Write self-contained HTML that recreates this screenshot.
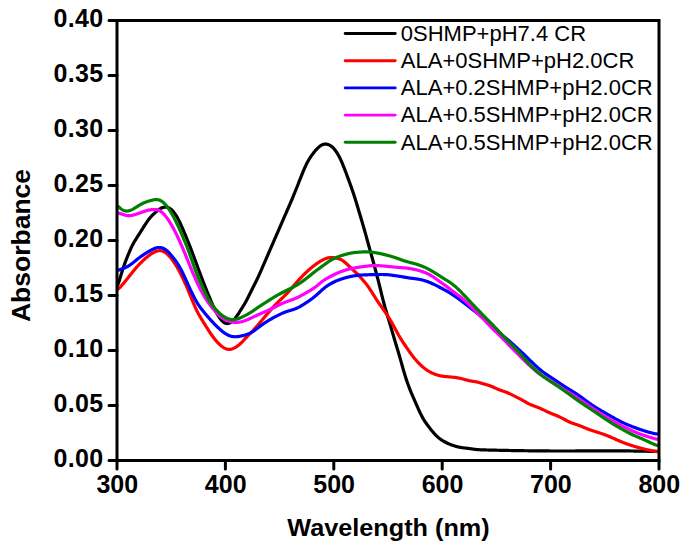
<!DOCTYPE html>
<html><head><meta charset="utf-8"><style>
html,body{margin:0;padding:0;background:#fff;}
body{width:685px;height:547px;overflow:hidden;}
svg{display:block;}
text{font-family:"Liberation Sans",sans-serif;}
.tk{font-weight:bold;font-size:25px;}
.lg{font-size:22px;}
</style></head><body>
<svg width="685" height="547" viewBox="0 0 685 547">
<rect width="685" height="547" fill="#fff"/>
<g fill="none" stroke-width="3.2" stroke-linejoin="round" stroke-linecap="round">
<path d="M117.5,285.41 L118.0,284.23 L118.5,282.91 L119.0,281.47 L119.5,279.94 L120.0,278.33 L120.5,276.69 L121.0,275.03 L121.5,273.38 L122.0,271.75 L122.5,270.17 L123.0,268.62 L123.5,267.12 L124.0,265.67 L124.5,264.27 L125.0,262.90 L125.5,261.56 L126.0,260.26 L126.5,258.97 L127.0,257.71 L127.5,256.46 L128.0,255.22 L128.5,254.00 L129.0,252.79 L129.5,251.60 L130.0,250.44 L130.5,249.30 L131.0,248.19 L131.5,247.12 L132.0,246.08 L132.5,245.08 L133.0,244.13 L133.5,243.21 L134.0,242.32 L134.5,241.47 L135.0,240.64 L135.5,239.83 L136.0,239.04 L136.5,238.26 L137.0,237.49 L137.5,236.72 L138.0,235.94 L138.5,235.17 L139.0,234.39 L139.5,233.61 L140.0,232.82 L140.5,232.02 L141.0,231.22 L141.5,230.42 L142.0,229.61 L142.5,228.81 L143.0,228.00 L143.5,227.20 L144.0,226.40 L144.5,225.60 L145.0,224.81 L145.5,224.04 L146.0,223.28 L146.5,222.53 L147.0,221.80 L147.5,221.09 L148.0,220.40 L148.5,219.73 L149.0,219.09 L149.5,218.46 L150.0,217.86 L150.5,217.29 L151.0,216.73 L151.5,216.19 L152.0,215.67 L152.5,215.17 L153.0,214.68 L153.5,214.20 L154.0,213.73 L154.5,213.28 L155.0,212.82 L155.5,212.38 L156.0,211.94 L156.5,211.51 L157.0,211.09 L157.5,210.68 L158.0,210.28 L158.5,209.89 L159.0,209.53 L159.5,209.18 L160.0,208.85 L160.5,208.54 L161.0,208.27 L161.5,208.02 L162.0,207.80 L162.5,207.61 L163.0,207.45 L163.5,207.32 L164.0,207.22 L164.5,207.15 L165.0,207.11 L165.5,207.10 L166.0,207.13 L166.5,207.18 L167.0,207.27 L167.5,207.39 L168.0,207.54 L168.5,207.74 L169.0,207.97 L169.5,208.24 L170.0,208.55 L170.5,208.91 L171.0,209.30 L171.5,209.74 L172.0,210.22 L172.5,210.74 L173.0,211.29 L173.5,211.89 L174.0,212.51 L174.5,213.17 L175.0,213.87 L175.5,214.59 L176.0,215.35 L176.5,216.15 L177.0,216.98 L177.5,217.84 L178.0,218.74 L178.5,219.68 L179.0,220.66 L179.5,221.67 L180.0,222.72 L180.5,223.80 L181.0,224.90 L181.5,226.03 L182.0,227.17 L182.5,228.33 L183.0,229.50 L183.5,230.67 L184.0,231.85 L184.5,233.03 L185.0,234.22 L185.5,235.41 L186.0,236.60 L186.5,237.81 L187.0,239.02 L187.5,240.24 L188.0,241.48 L188.5,242.73 L189.0,243.99 L189.5,245.27 L190.0,246.56 L190.5,247.86 L191.0,249.17 L191.5,250.49 L192.0,251.81 L192.5,253.14 L193.0,254.47 L193.5,255.81 L194.0,257.15 L194.5,258.49 L195.0,259.83 L195.5,261.18 L196.0,262.53 L196.5,263.89 L197.0,265.24 L197.5,266.60 L198.0,267.96 L198.5,269.32 L199.0,270.68 L199.5,272.03 L200.0,273.37 L200.5,274.71 L201.0,276.03 L201.5,277.35 L202.0,278.65 L202.5,279.94 L203.0,281.22 L203.5,282.50 L204.0,283.76 L204.5,285.02 L205.0,286.28 L205.5,287.53 L206.0,288.78 L206.5,290.03 L207.0,291.27 L207.5,292.51 L208.0,293.75 L208.5,294.99 L209.0,296.22 L209.5,297.44 L210.0,298.65 L210.5,299.86 L211.0,301.05 L211.5,302.22 L212.0,303.38 L212.5,304.51 L213.0,305.63 L213.5,306.73 L214.0,307.80 L214.5,308.85 L215.0,309.87 L215.5,310.86 L216.0,311.83 L216.5,312.77 L217.0,313.68 L217.5,314.55 L218.0,315.40 L218.5,316.21 L219.0,316.99 L219.5,317.73 L220.0,318.44 L220.5,319.10 L221.0,319.73 L221.5,320.31 L222.0,320.84 L222.5,321.33 L223.0,321.77 L223.5,322.17 L224.0,322.51 L224.5,322.81 L225.0,323.05 L225.5,323.25 L226.0,323.39 L226.5,323.48 L227.0,323.53 L227.5,323.53 L228.0,323.48 L228.5,323.38 L229.0,323.24 L229.5,323.06 L230.0,322.83 L230.5,322.56 L231.0,322.24 L231.5,321.89 L232.0,321.50 L232.5,321.07 L233.0,320.61 L233.5,320.10 L234.0,319.57 L234.5,319.00 L235.0,318.40 L235.5,317.77 L236.0,317.12 L236.5,316.44 L237.0,315.74 L237.5,315.02 L238.0,314.28 L238.5,313.53 L239.0,312.77 L239.5,312.00 L240.0,311.22 L240.5,310.44 L241.0,309.65 L241.5,308.86 L242.0,308.06 L242.5,307.26 L243.0,306.45 L243.5,305.63 L244.0,304.80 L244.5,303.96 L245.0,303.09 L245.5,302.21 L246.0,301.32 L246.5,300.40 L247.0,299.46 L247.5,298.50 L248.0,297.52 L248.5,296.52 L249.0,295.52 L249.5,294.50 L250.0,293.49 L250.5,292.47 L251.0,291.45 L251.5,290.43 L252.0,289.43 L252.5,288.43 L253.0,287.44 L253.5,286.45 L254.0,285.47 L254.5,284.49 L255.0,283.50 L255.5,282.51 L256.0,281.51 L256.5,280.49 L257.0,279.46 L257.5,278.42 L258.0,277.35 L258.5,276.27 L259.0,275.17 L259.5,274.06 L260.0,272.94 L260.5,271.80 L261.0,270.66 L261.5,269.52 L262.0,268.37 L262.5,267.22 L263.0,266.07 L263.5,264.92 L264.0,263.77 L264.5,262.62 L265.0,261.47 L265.5,260.31 L266.0,259.16 L266.5,258.01 L267.0,256.86 L267.5,255.71 L268.0,254.55 L268.5,253.40 L269.0,252.25 L269.5,251.09 L270.0,249.94 L270.5,248.79 L271.0,247.64 L271.5,246.48 L272.0,245.33 L272.5,244.18 L273.0,243.03 L273.5,241.88 L274.0,240.72 L274.5,239.57 L275.0,238.42 L275.5,237.27 L276.0,236.12 L276.5,234.97 L277.0,233.82 L277.5,232.67 L278.0,231.53 L278.5,230.38 L279.0,229.23 L279.5,228.08 L280.0,226.93 L280.5,225.78 L281.0,224.64 L281.5,223.49 L282.0,222.34 L282.5,221.19 L283.0,220.04 L283.5,218.89 L284.0,217.75 L284.5,216.60 L285.0,215.45 L285.5,214.30 L286.0,213.15 L286.5,212.00 L287.0,210.85 L287.5,209.70 L288.0,208.55 L288.5,207.40 L289.0,206.25 L289.5,205.10 L290.0,203.95 L290.5,202.79 L291.0,201.62 L291.5,200.45 L292.0,199.27 L292.5,198.08 L293.0,196.88 L293.5,195.67 L294.0,194.45 L294.5,193.23 L295.0,191.99 L295.5,190.75 L296.0,189.51 L296.5,188.25 L297.0,187.00 L297.5,185.74 L298.0,184.48 L298.5,183.22 L299.0,181.95 L299.5,180.69 L300.0,179.42 L300.5,178.15 L301.0,176.89 L301.5,175.63 L302.0,174.38 L302.5,173.14 L303.0,171.92 L303.5,170.71 L304.0,169.52 L304.5,168.36 L305.0,167.23 L305.5,166.14 L306.0,165.07 L306.5,164.05 L307.0,163.06 L307.5,162.11 L308.0,161.19 L308.5,160.31 L309.0,159.47 L309.5,158.65 L310.0,157.86 L310.5,157.10 L311.0,156.36 L311.5,155.64 L312.0,154.94 L312.5,154.26 L313.0,153.60 L313.5,152.95 L314.0,152.31 L314.5,151.69 L315.0,151.08 L315.5,150.49 L316.0,149.91 L316.5,149.36 L317.0,148.82 L317.5,148.30 L318.0,147.81 L318.5,147.34 L319.0,146.90 L319.5,146.49 L320.0,146.10 L320.5,145.75 L321.0,145.43 L321.5,145.14 L322.0,144.88 L322.5,144.66 L323.0,144.47 L323.5,144.32 L324.0,144.20 L324.5,144.12 L325.0,144.07 L325.5,144.06 L326.0,144.08 L326.5,144.13 L327.0,144.21 L327.5,144.33 L328.0,144.48 L328.5,144.66 L329.0,144.87 L329.5,145.11 L330.0,145.38 L330.5,145.68 L331.0,146.02 L331.5,146.39 L332.0,146.79 L332.5,147.23 L333.0,147.71 L333.5,148.23 L334.0,148.78 L334.5,149.37 L335.0,150.00 L335.5,150.66 L336.0,151.36 L336.5,152.10 L337.0,152.87 L337.5,153.68 L338.0,154.53 L338.5,155.41 L339.0,156.33 L339.5,157.28 L340.0,158.28 L340.5,159.32 L341.0,160.39 L341.5,161.50 L342.0,162.65 L342.5,163.83 L343.0,165.04 L343.5,166.28 L344.0,167.54 L344.5,168.83 L345.0,170.13 L345.5,171.45 L346.0,172.78 L346.5,174.12 L347.0,175.47 L347.5,176.82 L348.0,178.17 L348.5,179.53 L349.0,180.89 L349.5,182.26 L350.0,183.62 L350.5,185.00 L351.0,186.39 L351.5,187.79 L352.0,189.21 L352.5,190.65 L353.0,192.12 L353.5,193.61 L354.0,195.14 L354.5,196.69 L355.0,198.26 L355.5,199.87 L356.0,201.50 L356.5,203.15 L357.0,204.81 L357.5,206.49 L358.0,208.17 L358.5,209.85 L359.0,211.54 L359.5,213.22 L360.0,214.90 L360.5,216.58 L361.0,218.25 L361.5,219.93 L362.0,221.61 L362.5,223.29 L363.0,225.00 L363.5,226.71 L364.0,228.45 L364.5,230.22 L365.0,232.00 L365.5,233.80 L366.0,235.62 L366.5,237.44 L367.0,239.27 L367.5,241.10 L368.0,242.91 L368.5,244.72 L369.0,246.51 L369.5,248.30 L370.0,250.07 L370.5,251.85 L371.0,253.63 L371.5,255.41 L372.0,257.21 L372.5,259.02 L373.0,260.85 L373.5,262.69 L374.0,264.54 L374.5,266.40 L375.0,268.28 L375.5,270.15 L376.0,272.04 L376.5,273.93 L377.0,275.84 L377.5,277.76 L378.0,279.70 L378.5,281.66 L379.0,283.64 L379.5,285.65 L380.0,287.67 L380.5,289.71 L381.0,291.75 L381.5,293.79 L382.0,295.82 L382.5,297.83 L383.0,299.81 L383.5,301.75 L384.0,303.65 L384.5,305.50 L385.0,307.31 L385.5,309.08 L386.0,310.81 L386.5,312.51 L387.0,314.19 L387.5,315.84 L388.0,317.49 L388.5,319.13 L389.0,320.78 L389.5,322.43 L390.0,324.10 L390.5,325.77 L391.0,327.46 L391.5,329.17 L392.0,330.88 L392.5,332.59 L393.0,334.31 L393.5,336.03 L394.0,337.73 L394.5,339.43 L395.0,341.11 L395.5,342.78 L396.0,344.43 L396.5,346.08 L397.0,347.72 L397.5,349.37 L398.0,351.03 L398.5,352.70 L399.0,354.39 L399.5,356.11 L400.0,357.85 L400.5,359.61 L401.0,361.39 L401.5,363.18 L402.0,364.97 L402.5,366.75 L403.0,368.52 L403.5,370.25 L404.0,371.96 L404.5,373.64 L405.0,375.28 L405.5,376.88 L406.0,378.45 L406.5,379.97 L407.0,381.46 L407.5,382.91 L408.0,384.33 L408.5,385.71 L409.0,387.05 L409.5,388.36 L410.0,389.63 L410.5,390.87 L411.0,392.09 L411.5,393.28 L412.0,394.46 L412.5,395.62 L413.0,396.77 L413.5,397.92 L414.0,399.06 L414.5,400.20 L415.0,401.35 L415.5,402.50 L416.0,403.64 L416.5,404.79 L417.0,405.94 L417.5,407.08 L418.0,408.22 L418.5,409.34 L419.0,410.44 L419.5,411.53 L420.0,412.59 L420.5,413.62 L421.0,414.63 L421.5,415.60 L422.0,416.55 L422.5,417.46 L423.0,418.34 L423.5,419.19 L424.0,420.01 L424.5,420.80 L425.0,421.56 L425.5,422.31 L426.0,423.03 L426.5,423.73 L427.0,424.43 L427.5,425.11 L428.0,425.77 L428.5,426.44 L429.0,427.09 L429.5,427.74 L430.0,428.38 L430.5,429.02 L431.0,429.64 L431.5,430.26 L432.0,430.88 L432.5,431.48 L433.0,432.07 L433.5,432.65 L434.0,433.21 L434.5,433.76 L435.0,434.30 L435.5,434.83 L436.0,435.34 L436.5,435.83 L437.0,436.31 L437.5,436.77 L438.0,437.22 L438.5,437.65 L439.0,438.06 L439.5,438.47 L440.0,438.85 L440.5,439.22 L441.0,439.58 L441.5,439.93 L442.0,440.26 L442.5,440.58 L443.0,440.89 L443.5,441.18 L444.0,441.47 L444.5,441.75 L445.0,442.02 L445.5,442.28 L446.0,442.53 L446.5,442.77 L447.0,443.01 L447.5,443.24 L448.0,443.47 L448.5,443.69 L449.0,443.91 L449.5,444.12 L450.0,444.32 L450.5,444.52 L451.0,444.71 L451.5,444.90 L452.0,445.08 L452.5,445.26 L453.0,445.44 L453.5,445.61 L454.0,445.77 L454.5,445.93 L455.0,446.08 L455.5,446.23 L456.0,446.38 L456.5,446.51 L457.0,446.65 L457.5,446.77 L458.0,446.89 L458.5,447.01 L459.0,447.12 L459.5,447.22 L460.0,447.32 L460.5,447.41 L461.0,447.49 L461.5,447.57 L462.0,447.65 L462.5,447.72 L463.0,447.79 L463.5,447.85 L464.0,447.91 L464.5,447.97 L465.0,448.03 L465.5,448.09 L466.0,448.14 L466.5,448.20 L467.0,448.26 L467.5,448.32 L468.0,448.38 L468.5,448.44 L469.0,448.51 L469.5,448.57 L470.0,448.64 L470.5,448.71 L471.0,448.79 L471.5,448.86 L472.0,448.93 L472.5,449.01 L473.0,449.08 L473.5,449.15 L474.0,449.22 L474.5,449.28 L475.0,449.35 L475.5,449.41 L476.0,449.46 L476.5,449.52 L477.0,449.56 L477.5,449.61 L478.0,449.65 L478.5,449.69 L479.0,449.72 L479.5,449.75 L480.0,449.77 L480.5,449.80 L481.0,449.82 L481.5,449.84 L482.0,449.86 L482.5,449.87 L483.0,449.89 L483.5,449.90 L484.0,449.92 L484.5,449.93 L485.0,449.94 L485.5,449.96 L486.0,449.97 L486.5,449.98 L487.0,449.99 L487.5,450.01 L488.0,450.02 L488.5,450.03 L489.0,450.04 L489.5,450.06 L490.0,450.07 L490.5,450.08 L491.0,450.09 L491.5,450.10 L492.0,450.12 L492.5,450.13 L493.0,450.14 L493.5,450.15 L494.0,450.16 L494.5,450.17 L495.0,450.19 L495.5,450.20 L496.0,450.21 L496.5,450.22 L497.0,450.23 L497.5,450.24 L498.0,450.25 L498.5,450.27 L499.0,450.28 L499.5,450.29 L500.0,450.30 L500.5,450.31 L501.0,450.32 L501.5,450.33 L502.0,450.34 L502.5,450.35 L503.0,450.36 L503.5,450.37 L504.0,450.38 L504.5,450.39 L505.0,450.40 L505.5,450.41 L506.0,450.42 L506.5,450.43 L507.0,450.44 L507.5,450.45 L508.0,450.46 L508.5,450.47 L509.0,450.48 L509.5,450.49 L510.0,450.50 L510.5,450.51 L511.0,450.52 L511.5,450.53 L512.0,450.53 L512.5,450.54 L513.0,450.55 L513.5,450.56 L514.0,450.57 L514.5,450.58 L515.0,450.59 L515.5,450.59 L516.0,450.60 L516.5,450.61 L517.0,450.62 L517.5,450.63 L518.0,450.63 L518.5,450.64 L519.0,450.65 L519.5,450.66 L520.0,450.66 L520.5,450.67 L521.0,450.68 L521.5,450.69 L522.0,450.69 L522.5,450.70 L523.0,450.71 L523.5,450.71 L524.0,450.72 L524.5,450.73 L525.0,450.74 L525.5,450.74 L526.0,450.75 L526.5,450.76 L527.0,450.76 L527.5,450.77 L528.0,450.77 L528.5,450.78 L529.0,450.79 L529.5,450.79 L530.0,450.80 L530.5,450.81 L531.0,450.81 L531.5,450.82 L532.0,450.82 L532.5,450.83 L533.0,450.83 L533.5,450.84 L534.0,450.84 L534.5,450.85 L535.0,450.86 L535.5,450.86 L536.0,450.87 L536.5,450.87 L537.0,450.88 L537.5,450.88 L538.0,450.89 L538.5,450.89 L539.0,450.90 L539.5,450.90 L540.0,450.90 L540.5,450.91 L541.0,450.91 L541.5,450.92 L542.0,450.92 L542.5,450.93 L543.0,450.93 L543.5,450.93 L544.0,450.94 L544.5,450.94 L545.0,450.94 L545.5,450.95 L546.0,450.95 L546.5,450.96 L547.0,450.96 L547.5,450.96 L548.0,450.96 L548.5,450.97 L549.0,450.97 L549.5,450.97 L550.0,450.98 L550.5,450.98 L551.0,450.98 L551.5,450.98 L552.0,450.99 L552.5,450.99 L553.0,450.99 L553.5,450.99 L554.0,450.99 L554.5,451.00 L555.0,451.00 L555.5,451.00 L556.0,451.00 L556.5,451.00 L557.0,451.00 L557.5,451.01 L558.0,451.01 L558.5,451.01 L559.0,451.01 L559.5,451.01 L560.0,451.01 L560.5,451.01 L561.0,451.01 L561.5,451.01 L562.0,451.01 L562.5,451.01 L563.0,451.01 L563.5,451.01 L564.0,451.01 L564.5,451.01 L565.0,451.01 L565.5,451.01 L566.0,451.01 L566.5,451.01 L567.0,451.01 L567.5,451.01 L568.0,451.00 L568.5,451.00 L569.0,451.00 L569.5,451.00 L570.0,451.00 L570.5,451.00 L571.0,450.99 L571.5,450.99 L572.0,450.99 L572.5,450.99 L573.0,450.99 L573.5,450.98 L574.0,450.98 L574.5,450.98 L575.0,450.98 L575.5,450.97 L576.0,450.97 L576.5,450.97 L577.0,450.96 L577.5,450.96 L578.0,450.96 L578.5,450.95 L579.0,450.95 L579.5,450.95 L580.0,450.94 L580.5,450.94 L581.0,450.94 L581.5,450.93 L582.0,450.93 L582.5,450.93 L583.0,450.92 L583.5,450.92 L584.0,450.92 L584.5,450.91 L585.0,450.91 L585.5,450.91 L586.0,450.90 L586.5,450.90 L587.0,450.89 L587.5,450.89 L588.0,450.89 L588.5,450.88 L589.0,450.88 L589.5,450.88 L590.0,450.87 L590.5,450.87 L591.0,450.87 L591.5,450.86 L592.0,450.86 L592.5,450.86 L593.0,450.85 L593.5,450.85 L594.0,450.85 L594.5,450.84 L595.0,450.84 L595.5,450.84 L596.0,450.83 L596.5,450.83 L597.0,450.83 L597.5,450.83 L598.0,450.82 L598.5,450.82 L599.0,450.82 L599.5,450.82 L600.0,450.82 L600.5,450.81 L601.0,450.81 L601.5,450.81 L602.0,450.81 L602.5,450.81 L603.0,450.81 L603.5,450.80 L604.0,450.80 L604.5,450.80 L605.0,450.80 L605.5,450.80 L606.0,450.80 L606.5,450.80 L607.0,450.80 L607.5,450.80 L608.0,450.80 L608.5,450.80 L609.0,450.80 L609.5,450.80 L610.0,450.80 L610.5,450.80 L611.0,450.80 L611.5,450.81 L612.0,450.81 L612.5,450.81 L613.0,450.81 L613.5,450.81 L614.0,450.82 L614.5,450.82 L615.0,450.82 L615.5,450.82 L616.0,450.83 L616.5,450.83 L617.0,450.83 L617.5,450.84 L618.0,450.84 L618.5,450.84 L619.0,450.85 L619.5,450.85 L620.0,450.86 L620.5,450.86 L621.0,450.87 L621.5,450.87 L622.0,450.88 L622.5,450.88 L623.0,450.89 L623.5,450.89 L624.0,450.90 L624.5,450.90 L625.0,450.91 L625.5,450.91 L626.0,450.92 L626.5,450.93 L627.0,450.93 L627.5,450.94 L628.0,450.95 L628.5,450.95 L629.0,450.96 L629.5,450.97 L630.0,450.97 L630.5,450.98 L631.0,450.99 L631.5,451.00 L632.0,451.00 L632.5,451.01 L633.0,451.02 L633.5,451.03 L634.0,451.03 L634.5,451.04 L635.0,451.05 L635.5,451.06 L636.0,451.07 L636.5,451.08 L637.0,451.08 L637.5,451.09 L638.0,451.10 L638.5,451.11 L639.0,451.12 L639.5,451.13 L640.0,451.14 L640.5,451.15 L641.0,451.16 L641.5,451.16 L642.0,451.17 L642.5,451.18 L643.0,451.19 L643.5,451.20 L644.0,451.21 L644.5,451.22 L645.0,451.23 L645.5,451.24 L646.0,451.25 L646.5,451.26 L647.0,451.27 L647.5,451.28 L648.0,451.29 L648.5,451.30 L649.0,451.31 L649.5,451.32 L650.0,451.33 L650.5,451.34 L651.0,451.35 L651.5,451.36 L652.0,451.37 L652.5,451.38 L653.0,451.39 L653.5,451.40 L654.0,451.41 L654.5,451.42 L655.0,451.43 L655.5,451.44 L656.0,451.45 L656.5,451.46 L657.0,451.47 L657.5,451.47 L658.0,451.48" stroke="#000000"/>
<path d="M117.5,289.44 L118.0,289.10 L118.5,288.72 L119.0,288.30 L119.5,287.84 L120.0,287.35 L120.5,286.83 L121.0,286.30 L121.5,285.74 L122.0,285.17 L122.5,284.58 L123.0,283.99 L123.5,283.39 L124.0,282.79 L124.5,282.18 L125.0,281.57 L125.5,280.96 L126.0,280.34 L126.5,279.72 L127.0,279.10 L127.5,278.48 L128.0,277.85 L128.5,277.23 L129.0,276.60 L129.5,275.97 L130.0,275.33 L130.5,274.70 L131.0,274.07 L131.5,273.44 L132.0,272.81 L132.5,272.19 L133.0,271.57 L133.5,270.96 L134.0,270.35 L134.5,269.74 L135.0,269.15 L135.5,268.56 L136.0,267.97 L136.5,267.40 L137.0,266.83 L137.5,266.27 L138.0,265.72 L138.5,265.18 L139.0,264.64 L139.5,264.11 L140.0,263.58 L140.5,263.07 L141.0,262.56 L141.5,262.06 L142.0,261.56 L142.5,261.08 L143.0,260.60 L143.5,260.13 L144.0,259.66 L144.5,259.21 L145.0,258.76 L145.5,258.32 L146.0,257.89 L146.5,257.46 L147.0,257.05 L147.5,256.64 L148.0,256.24 L148.5,255.85 L149.0,255.47 L149.5,255.10 L150.0,254.73 L150.5,254.38 L151.0,254.03 L151.5,253.70 L152.0,253.38 L152.5,253.07 L153.0,252.78 L153.5,252.50 L154.0,252.24 L154.5,251.99 L155.0,251.77 L155.5,251.56 L156.0,251.37 L156.5,251.21 L157.0,251.07 L157.5,250.95 L158.0,250.85 L158.5,250.77 L159.0,250.72 L159.5,250.70 L160.0,250.70 L160.5,250.72 L161.0,250.78 L161.5,250.86 L162.0,250.98 L162.5,251.12 L163.0,251.30 L163.5,251.51 L164.0,251.75 L164.5,252.02 L165.0,252.33 L165.5,252.67 L166.0,253.04 L166.5,253.44 L167.0,253.87 L167.5,254.32 L168.0,254.81 L168.5,255.31 L169.0,255.84 L169.5,256.39 L170.0,256.96 L170.5,257.55 L171.0,258.16 L171.5,258.78 L172.0,259.43 L172.5,260.10 L173.0,260.79 L173.5,261.50 L174.0,262.24 L174.5,262.99 L175.0,263.77 L175.5,264.57 L176.0,265.38 L176.5,266.22 L177.0,267.08 L177.5,267.96 L178.0,268.85 L178.5,269.76 L179.0,270.68 L179.5,271.62 L180.0,272.57 L180.5,273.54 L181.0,274.52 L181.5,275.52 L182.0,276.53 L182.5,277.56 L183.0,278.60 L183.5,279.66 L184.0,280.74 L184.5,281.83 L185.0,282.94 L185.5,284.07 L186.0,285.21 L186.5,286.37 L187.0,287.54 L187.5,288.73 L188.0,289.93 L188.5,291.13 L189.0,292.35 L189.5,293.57 L190.0,294.79 L190.5,296.02 L191.0,297.25 L191.5,298.48 L192.0,299.71 L192.5,300.92 L193.0,302.13 L193.5,303.32 L194.0,304.49 L194.5,305.64 L195.0,306.77 L195.5,307.88 L196.0,308.96 L196.5,310.01 L197.0,311.03 L197.5,312.03 L198.0,312.99 L198.5,313.93 L199.0,314.84 L199.5,315.72 L200.0,316.59 L200.5,317.43 L201.0,318.27 L201.5,319.09 L202.0,319.90 L202.5,320.70 L203.0,321.51 L203.5,322.31 L204.0,323.11 L204.5,323.91 L205.0,324.71 L205.5,325.52 L206.0,326.32 L206.5,327.13 L207.0,327.93 L207.5,328.72 L208.0,329.51 L208.5,330.30 L209.0,331.07 L209.5,331.84 L210.0,332.59 L210.5,333.33 L211.0,334.06 L211.5,334.78 L212.0,335.48 L212.5,336.17 L213.0,336.85 L213.5,337.51 L214.0,338.16 L214.5,338.79 L215.0,339.42 L215.5,340.02 L216.0,340.61 L216.5,341.19 L217.0,341.75 L217.5,342.30 L218.0,342.83 L218.5,343.34 L219.0,343.84 L219.5,344.32 L220.0,344.78 L220.5,345.23 L221.0,345.65 L221.5,346.06 L222.0,346.45 L222.5,346.82 L223.0,347.16 L223.5,347.49 L224.0,347.80 L224.5,348.08 L225.0,348.33 L225.5,348.56 L226.0,348.77 L226.5,348.94 L227.0,349.09 L227.5,349.21 L228.0,349.30 L228.5,349.36 L229.0,349.38 L229.5,349.38 L230.0,349.35 L230.5,349.29 L231.0,349.20 L231.5,349.08 L232.0,348.94 L232.5,348.77 L233.0,348.58 L233.5,348.37 L234.0,348.13 L234.5,347.88 L235.0,347.61 L235.5,347.32 L236.0,347.02 L236.5,346.69 L237.0,346.36 L237.5,346.00 L238.0,345.63 L238.5,345.24 L239.0,344.84 L239.5,344.42 L240.0,343.98 L240.5,343.53 L241.0,343.06 L241.5,342.57 L242.0,342.08 L242.5,341.57 L243.0,341.05 L243.5,340.52 L244.0,339.98 L244.5,339.45 L245.0,338.91 L245.5,338.36 L246.0,337.83 L246.5,337.29 L247.0,336.75 L247.5,336.23 L248.0,335.70 L248.5,335.18 L249.0,334.66 L249.5,334.15 L250.0,333.64 L250.5,333.12 L251.0,332.61 L251.5,332.10 L252.0,331.58 L252.5,331.06 L253.0,330.54 L253.5,330.00 L254.0,329.47 L254.5,328.92 L255.0,328.37 L255.5,327.81 L256.0,327.25 L256.5,326.68 L257.0,326.11 L257.5,325.53 L258.0,324.94 L258.5,324.35 L259.0,323.76 L259.5,323.17 L260.0,322.58 L260.5,321.98 L261.0,321.38 L261.5,320.79 L262.0,320.19 L262.5,319.59 L263.0,318.99 L263.5,318.40 L264.0,317.80 L264.5,317.21 L265.0,316.62 L265.5,316.03 L266.0,315.44 L266.5,314.85 L267.0,314.26 L267.5,313.67 L268.0,313.08 L268.5,312.50 L269.0,311.91 L269.5,311.33 L270.0,310.75 L270.5,310.17 L271.0,309.59 L271.5,309.01 L272.0,308.44 L272.5,307.88 L273.0,307.32 L273.5,306.76 L274.0,306.21 L274.5,305.67 L275.0,305.13 L275.5,304.61 L276.0,304.09 L276.5,303.58 L277.0,303.08 L277.5,302.58 L278.0,302.09 L278.5,301.61 L279.0,301.13 L279.5,300.66 L280.0,300.19 L280.5,299.73 L281.0,299.26 L281.5,298.79 L282.0,298.33 L282.5,297.86 L283.0,297.38 L283.5,296.90 L284.0,296.42 L284.5,295.93 L285.0,295.43 L285.5,294.92 L286.0,294.41 L286.5,293.89 L287.0,293.36 L287.5,292.82 L288.0,292.28 L288.5,291.73 L289.0,291.17 L289.5,290.61 L290.0,290.04 L290.5,289.47 L291.0,288.89 L291.5,288.31 L292.0,287.73 L292.5,287.14 L293.0,286.56 L293.5,285.98 L294.0,285.39 L294.5,284.81 L295.0,284.23 L295.5,283.65 L296.0,283.07 L296.5,282.50 L297.0,281.93 L297.5,281.37 L298.0,280.81 L298.5,280.25 L299.0,279.70 L299.5,279.16 L300.0,278.62 L300.5,278.08 L301.0,277.55 L301.5,277.03 L302.0,276.51 L302.5,275.99 L303.0,275.48 L303.5,274.98 L304.0,274.48 L304.5,273.99 L305.0,273.50 L305.5,273.01 L306.0,272.53 L306.5,272.06 L307.0,271.59 L307.5,271.13 L308.0,270.67 L308.5,270.22 L309.0,269.77 L309.5,269.33 L310.0,268.90 L310.5,268.46 L311.0,268.04 L311.5,267.62 L312.0,267.21 L312.5,266.80 L313.0,266.40 L313.5,266.01 L314.0,265.62 L314.5,265.24 L315.0,264.87 L315.5,264.50 L316.0,264.14 L316.5,263.78 L317.0,263.43 L317.5,263.09 L318.0,262.76 L318.5,262.43 L319.0,262.11 L319.5,261.79 L320.0,261.49 L320.5,261.19 L321.0,260.89 L321.5,260.61 L322.0,260.33 L322.5,260.06 L323.0,259.80 L323.5,259.56 L324.0,259.32 L324.5,259.09 L325.0,258.88 L325.5,258.67 L326.0,258.49 L326.5,258.32 L327.0,258.16 L327.5,258.02 L328.0,257.90 L328.5,257.79 L329.0,257.70 L329.5,257.63 L330.0,257.58 L330.5,257.54 L331.0,257.52 L331.5,257.51 L332.0,257.52 L332.5,257.54 L333.0,257.57 L333.5,257.62 L334.0,257.67 L334.5,257.73 L335.0,257.81 L335.5,257.89 L336.0,257.98 L336.5,258.09 L337.0,258.20 L337.5,258.32 L338.0,258.46 L338.5,258.61 L339.0,258.78 L339.5,258.97 L340.0,259.17 L340.5,259.40 L341.0,259.64 L341.5,259.91 L342.0,260.20 L342.5,260.52 L343.0,260.85 L343.5,261.21 L344.0,261.58 L344.5,261.98 L345.0,262.39 L345.5,262.81 L346.0,263.25 L346.5,263.70 L347.0,264.16 L347.5,264.63 L348.0,265.10 L348.5,265.58 L349.0,266.07 L349.5,266.55 L350.0,267.04 L350.5,267.52 L351.0,268.01 L351.5,268.49 L352.0,268.96 L352.5,269.44 L353.0,269.91 L353.5,270.37 L354.0,270.84 L354.5,271.31 L355.0,271.77 L355.5,272.24 L356.0,272.72 L356.5,273.20 L357.0,273.69 L357.5,274.19 L358.0,274.70 L358.5,275.22 L359.0,275.75 L359.5,276.28 L360.0,276.82 L360.5,277.37 L361.0,277.92 L361.5,278.47 L362.0,279.03 L362.5,279.59 L363.0,280.15 L363.5,280.72 L364.0,281.30 L364.5,281.89 L365.0,282.49 L365.5,283.10 L366.0,283.73 L366.5,284.37 L367.0,285.03 L367.5,285.70 L368.0,286.40 L368.5,287.11 L369.0,287.84 L369.5,288.58 L370.0,289.33 L370.5,290.10 L371.0,290.88 L371.5,291.66 L372.0,292.45 L372.5,293.24 L373.0,294.04 L373.5,294.84 L374.0,295.63 L374.5,296.43 L375.0,297.21 L375.5,298.00 L376.0,298.78 L376.5,299.55 L377.0,300.31 L377.5,301.06 L378.0,301.81 L378.5,302.55 L379.0,303.28 L379.5,304.01 L380.0,304.73 L380.5,305.45 L381.0,306.17 L381.5,306.88 L382.0,307.59 L382.5,308.30 L383.0,309.01 L383.5,309.73 L384.0,310.45 L384.5,311.17 L385.0,311.90 L385.5,312.64 L386.0,313.38 L386.5,314.13 L387.0,314.89 L387.5,315.65 L388.0,316.43 L388.5,317.21 L389.0,318.01 L389.5,318.82 L390.0,319.64 L390.5,320.47 L391.0,321.31 L391.5,322.17 L392.0,323.03 L392.5,323.92 L393.0,324.81 L393.5,325.71 L394.0,326.63 L394.5,327.55 L395.0,328.48 L395.5,329.41 L396.0,330.34 L396.5,331.27 L397.0,332.20 L397.5,333.11 L398.0,334.02 L398.5,334.91 L399.0,335.79 L399.5,336.65 L400.0,337.50 L400.5,338.33 L401.0,339.14 L401.5,339.94 L402.0,340.72 L402.5,341.50 L403.0,342.26 L403.5,343.01 L404.0,343.76 L404.5,344.50 L405.0,345.24 L405.5,345.98 L406.0,346.71 L406.5,347.45 L407.0,348.18 L407.5,348.91 L408.0,349.64 L408.5,350.36 L409.0,351.08 L409.5,351.79 L410.0,352.50 L410.5,353.20 L411.0,353.89 L411.5,354.56 L412.0,355.23 L412.5,355.89 L413.0,356.54 L413.5,357.17 L414.0,357.79 L414.5,358.40 L415.0,359.00 L415.5,359.59 L416.0,360.16 L416.5,360.73 L417.0,361.28 L417.5,361.83 L418.0,362.36 L418.5,362.88 L419.0,363.39 L419.5,363.89 L420.0,364.38 L420.5,364.86 L421.0,365.33 L421.5,365.79 L422.0,366.24 L422.5,366.68 L423.0,367.11 L423.5,367.53 L424.0,367.93 L424.5,368.33 L425.0,368.71 L425.5,369.09 L426.0,369.45 L426.5,369.80 L427.0,370.14 L427.5,370.47 L428.0,370.79 L428.5,371.09 L429.0,371.39 L429.5,371.67 L430.0,371.95 L430.5,372.21 L431.0,372.47 L431.5,372.72 L432.0,372.95 L432.5,373.18 L433.0,373.40 L433.5,373.61 L434.0,373.82 L434.5,374.02 L435.0,374.21 L435.5,374.39 L436.0,374.57 L436.5,374.73 L437.0,374.90 L437.5,375.05 L438.0,375.20 L438.5,375.33 L439.0,375.47 L439.5,375.59 L440.0,375.71 L440.5,375.82 L441.0,375.92 L441.5,376.01 L442.0,376.10 L442.5,376.18 L443.0,376.26 L443.5,376.33 L444.0,376.39 L444.5,376.45 L445.0,376.50 L445.5,376.55 L446.0,376.60 L446.5,376.64 L447.0,376.69 L447.5,376.73 L448.0,376.77 L448.5,376.81 L449.0,376.85 L449.5,376.89 L450.0,376.93 L450.5,376.98 L451.0,377.02 L451.5,377.07 L452.0,377.11 L452.5,377.16 L453.0,377.22 L453.5,377.27 L454.0,377.33 L454.5,377.39 L455.0,377.45 L455.5,377.52 L456.0,377.59 L456.5,377.67 L457.0,377.75 L457.5,377.83 L458.0,377.92 L458.5,378.01 L459.0,378.11 L459.5,378.21 L460.0,378.31 L460.5,378.43 L461.0,378.54 L461.5,378.66 L462.0,378.79 L462.5,378.92 L463.0,379.05 L463.5,379.19 L464.0,379.33 L464.5,379.47 L465.0,379.61 L465.5,379.75 L466.0,379.89 L466.5,380.02 L467.0,380.15 L467.5,380.28 L468.0,380.40 L468.5,380.52 L469.0,380.63 L469.5,380.73 L470.0,380.82 L470.5,380.91 L471.0,381.00 L471.5,381.08 L472.0,381.16 L472.5,381.23 L473.0,381.31 L473.5,381.38 L474.0,381.46 L474.5,381.54 L475.0,381.63 L475.5,381.72 L476.0,381.82 L476.5,381.93 L477.0,382.04 L477.5,382.16 L478.0,382.29 L478.5,382.42 L479.0,382.55 L479.5,382.69 L480.0,382.84 L480.5,382.98 L481.0,383.13 L481.5,383.27 L482.0,383.41 L482.5,383.56 L483.0,383.70 L483.5,383.84 L484.0,383.98 L484.5,384.12 L485.0,384.26 L485.5,384.40 L486.0,384.54 L486.5,384.68 L487.0,384.83 L487.5,384.98 L488.0,385.13 L488.5,385.29 L489.0,385.46 L489.5,385.63 L490.0,385.81 L490.5,386.00 L491.0,386.19 L491.5,386.39 L492.0,386.60 L492.5,386.81 L493.0,387.03 L493.5,387.25 L494.0,387.48 L494.5,387.71 L495.0,387.94 L495.5,388.17 L496.0,388.40 L496.5,388.63 L497.0,388.85 L497.5,389.07 L498.0,389.28 L498.5,389.48 L499.0,389.68 L499.5,389.87 L500.0,390.05 L500.5,390.23 L501.0,390.40 L501.5,390.57 L502.0,390.74 L502.5,390.90 L503.0,391.06 L503.5,391.23 L504.0,391.40 L504.5,391.57 L505.0,391.75 L505.5,391.94 L506.0,392.13 L506.5,392.33 L507.0,392.53 L507.5,392.75 L508.0,392.97 L508.5,393.20 L509.0,393.43 L509.5,393.67 L510.0,393.91 L510.5,394.16 L511.0,394.41 L511.5,394.66 L512.0,394.91 L512.5,395.16 L513.0,395.41 L513.5,395.66 L514.0,395.91 L514.5,396.16 L515.0,396.40 L515.5,396.65 L516.0,396.89 L516.5,397.13 L517.0,397.38 L517.5,397.62 L518.0,397.87 L518.5,398.11 L519.0,398.36 L519.5,398.62 L520.0,398.87 L520.5,399.13 L521.0,399.40 L521.5,399.67 L522.0,399.95 L522.5,400.23 L523.0,400.52 L523.5,400.81 L524.0,401.10 L524.5,401.40 L525.0,401.69 L525.5,401.99 L526.0,402.28 L526.5,402.57 L527.0,402.85 L527.5,403.13 L528.0,403.40 L528.5,403.66 L529.0,403.91 L529.5,404.15 L530.0,404.38 L530.5,404.61 L531.0,404.82 L531.5,405.03 L532.0,405.23 L532.5,405.42 L533.0,405.61 L533.5,405.79 L534.0,405.98 L534.5,406.16 L535.0,406.34 L535.5,406.52 L536.0,406.70 L536.5,406.89 L537.0,407.08 L537.5,407.27 L538.0,407.47 L538.5,407.67 L539.0,407.88 L539.5,408.09 L540.0,408.30 L540.5,408.52 L541.0,408.74 L541.5,408.97 L542.0,409.20 L542.5,409.43 L543.0,409.66 L543.5,409.90 L544.0,410.14 L544.5,410.38 L545.0,410.62 L545.5,410.86 L546.0,411.09 L546.5,411.33 L547.0,411.57 L547.5,411.80 L548.0,412.03 L548.5,412.25 L549.0,412.48 L549.5,412.70 L550.0,412.92 L550.5,413.13 L551.0,413.34 L551.5,413.55 L552.0,413.75 L552.5,413.95 L553.0,414.15 L553.5,414.35 L554.0,414.55 L554.5,414.75 L555.0,414.95 L555.5,415.15 L556.0,415.35 L556.5,415.56 L557.0,415.77 L557.5,415.98 L558.0,416.20 L558.5,416.42 L559.0,416.65 L559.5,416.89 L560.0,417.13 L560.5,417.37 L561.0,417.62 L561.5,417.88 L562.0,418.14 L562.5,418.40 L563.0,418.67 L563.5,418.93 L564.0,419.20 L564.5,419.48 L565.0,419.75 L565.5,420.01 L566.0,420.28 L566.5,420.54 L567.0,420.80 L567.5,421.06 L568.0,421.31 L568.5,421.55 L569.0,421.78 L569.5,422.01 L570.0,422.23 L570.5,422.45 L571.0,422.65 L571.5,422.85 L572.0,423.04 L572.5,423.23 L573.0,423.41 L573.5,423.59 L574.0,423.76 L574.5,423.93 L575.0,424.10 L575.5,424.27 L576.0,424.43 L576.5,424.60 L577.0,424.77 L577.5,424.94 L578.0,425.11 L578.5,425.29 L579.0,425.47 L579.5,425.65 L580.0,425.84 L580.5,426.03 L581.0,426.23 L581.5,426.43 L582.0,426.63 L582.5,426.83 L583.0,427.04 L583.5,427.25 L584.0,427.45 L584.5,427.66 L585.0,427.87 L585.5,428.08 L586.0,428.28 L586.5,428.49 L587.0,428.69 L587.5,428.89 L588.0,429.08 L588.5,429.27 L589.0,429.46 L589.5,429.65 L590.0,429.83 L590.5,430.01 L591.0,430.18 L591.5,430.35 L592.0,430.52 L592.5,430.69 L593.0,430.85 L593.5,431.02 L594.0,431.18 L594.5,431.34 L595.0,431.49 L595.5,431.65 L596.0,431.81 L596.5,431.97 L597.0,432.12 L597.5,432.28 L598.0,432.44 L598.5,432.60 L599.0,432.76 L599.5,432.92 L600.0,433.08 L600.5,433.24 L601.0,433.41 L601.5,433.58 L602.0,433.75 L602.5,433.92 L603.0,434.09 L603.5,434.27 L604.0,434.45 L604.5,434.63 L605.0,434.82 L605.5,435.00 L606.0,435.19 L606.5,435.39 L607.0,435.58 L607.5,435.78 L608.0,435.98 L608.5,436.19 L609.0,436.39 L609.5,436.60 L610.0,436.81 L610.5,437.03 L611.0,437.24 L611.5,437.46 L612.0,437.67 L612.5,437.89 L613.0,438.12 L613.5,438.34 L614.0,438.56 L614.5,438.78 L615.0,439.01 L615.5,439.23 L616.0,439.46 L616.5,439.68 L617.0,439.90 L617.5,440.13 L618.0,440.35 L618.5,440.57 L619.0,440.79 L619.5,441.01 L620.0,441.22 L620.5,441.43 L621.0,441.64 L621.5,441.85 L622.0,442.06 L622.5,442.26 L623.0,442.46 L623.5,442.66 L624.0,442.85 L624.5,443.04 L625.0,443.23 L625.5,443.41 L626.0,443.59 L626.5,443.77 L627.0,443.95 L627.5,444.12 L628.0,444.30 L628.5,444.47 L629.0,444.64 L629.5,444.80 L630.0,444.97 L630.5,445.13 L631.0,445.29 L631.5,445.45 L632.0,445.61 L632.5,445.76 L633.0,445.92 L633.5,446.07 L634.0,446.23 L634.5,446.38 L635.0,446.53 L635.5,446.67 L636.0,446.82 L636.5,446.96 L637.0,447.11 L637.5,447.25 L638.0,447.39 L638.5,447.53 L639.0,447.67 L639.5,447.80 L640.0,447.94 L640.5,448.07 L641.0,448.20 L641.5,448.33 L642.0,448.46 L642.5,448.59 L643.0,448.72 L643.5,448.84 L644.0,448.97 L644.5,449.09 L645.0,449.21 L645.5,449.33 L646.0,449.45 L646.5,449.57 L647.0,449.69 L647.5,449.80 L648.0,449.92 L648.5,450.03 L649.0,450.14 L649.5,450.25 L650.0,450.36 L650.5,450.47 L651.0,450.58 L651.5,450.68 L652.0,450.79 L652.5,450.89 L653.0,450.99 L653.5,451.09 L654.0,451.18 L654.5,451.27 L655.0,451.36 L655.5,451.44 L656.0,451.52 L656.5,451.59 L657.0,451.66 L657.5,451.72 L658.0,451.77" stroke="#ff0000"/>
<path d="M117.5,270.38 L118.0,270.25 L118.5,270.11 L119.0,269.95 L119.5,269.79 L120.0,269.62 L120.5,269.45 L121.0,269.26 L121.5,269.08 L122.0,268.89 L122.5,268.70 L123.0,268.51 L123.5,268.32 L124.0,268.12 L124.5,267.92 L125.0,267.71 L125.5,267.50 L126.0,267.27 L126.5,267.03 L127.0,266.79 L127.5,266.53 L128.0,266.25 L128.5,265.97 L129.0,265.66 L129.5,265.34 L130.0,265.01 L130.5,264.67 L131.0,264.31 L131.5,263.94 L132.0,263.56 L132.5,263.17 L133.0,262.78 L133.5,262.37 L134.0,261.97 L134.5,261.56 L135.0,261.15 L135.5,260.74 L136.0,260.33 L136.5,259.92 L137.0,259.51 L137.5,259.11 L138.0,258.71 L138.5,258.32 L139.0,257.94 L139.5,257.56 L140.0,257.18 L140.5,256.82 L141.0,256.46 L141.5,256.10 L142.0,255.75 L142.5,255.40 L143.0,255.06 L143.5,254.73 L144.0,254.40 L144.5,254.07 L145.0,253.75 L145.5,253.43 L146.0,253.11 L146.5,252.80 L147.0,252.49 L147.5,252.19 L148.0,251.89 L148.5,251.59 L149.0,251.30 L149.5,251.01 L150.0,250.72 L150.5,250.45 L151.0,250.17 L151.5,249.91 L152.0,249.65 L152.5,249.40 L153.0,249.16 L153.5,248.93 L154.0,248.72 L154.5,248.51 L155.0,248.32 L155.5,248.14 L156.0,247.98 L156.5,247.85 L157.0,247.73 L157.5,247.63 L158.0,247.56 L158.5,247.52 L159.0,247.50 L159.5,247.50 L160.0,247.53 L160.5,247.59 L161.0,247.68 L161.5,247.79 L162.0,247.93 L162.5,248.09 L163.0,248.28 L163.5,248.50 L164.0,248.74 L164.5,249.01 L165.0,249.30 L165.5,249.63 L166.0,249.99 L166.5,250.37 L167.0,250.79 L167.5,251.23 L168.0,251.70 L168.5,252.20 L169.0,252.72 L169.5,253.26 L170.0,253.82 L170.5,254.39 L171.0,254.97 L171.5,255.56 L172.0,256.17 L172.5,256.78 L173.0,257.40 L173.5,258.02 L174.0,258.66 L174.5,259.31 L175.0,259.97 L175.5,260.65 L176.0,261.34 L176.5,262.06 L177.0,262.79 L177.5,263.56 L178.0,264.34 L178.5,265.15 L179.0,265.98 L179.5,266.85 L180.0,267.73 L180.5,268.65 L181.0,269.59 L181.5,270.55 L182.0,271.53 L182.5,272.54 L183.0,273.57 L183.5,274.62 L184.0,275.68 L184.5,276.76 L185.0,277.85 L185.5,278.95 L186.0,280.06 L186.5,281.17 L187.0,282.28 L187.5,283.39 L188.0,284.50 L188.5,285.60 L189.0,286.69 L189.5,287.78 L190.0,288.85 L190.5,289.91 L191.0,290.97 L191.5,292.01 L192.0,293.04 L192.5,294.05 L193.0,295.06 L193.5,296.05 L194.0,297.02 L194.5,297.98 L195.0,298.92 L195.5,299.84 L196.0,300.74 L196.5,301.62 L197.0,302.47 L197.5,303.30 L198.0,304.10 L198.5,304.88 L199.0,305.63 L199.5,306.36 L200.0,307.06 L200.5,307.75 L201.0,308.41 L201.5,309.06 L202.0,309.70 L202.5,310.33 L203.0,310.96 L203.5,311.57 L204.0,312.19 L204.5,312.80 L205.0,313.41 L205.5,314.01 L206.0,314.62 L206.5,315.22 L207.0,315.81 L207.5,316.40 L208.0,316.99 L208.5,317.57 L209.0,318.15 L209.5,318.71 L210.0,319.27 L210.5,319.82 L211.0,320.37 L211.5,320.90 L212.0,321.43 L212.5,321.96 L213.0,322.48 L213.5,323.00 L214.0,323.51 L214.5,324.02 L215.0,324.53 L215.5,325.03 L216.0,325.53 L216.5,326.03 L217.0,326.53 L217.5,327.02 L218.0,327.50 L218.5,327.98 L219.0,328.45 L219.5,328.92 L220.0,329.37 L220.5,329.82 L221.0,330.25 L221.5,330.67 L222.0,331.09 L222.5,331.49 L223.0,331.87 L223.5,332.25 L224.0,332.62 L224.5,332.97 L225.0,333.31 L225.5,333.63 L226.0,333.95 L226.5,334.25 L227.0,334.53 L227.5,334.80 L228.0,335.06 L228.5,335.29 L229.0,335.51 L229.5,335.72 L230.0,335.90 L230.5,336.06 L231.0,336.21 L231.5,336.34 L232.0,336.45 L232.5,336.54 L233.0,336.61 L233.5,336.67 L234.0,336.71 L234.5,336.74 L235.0,336.75 L235.5,336.74 L236.0,336.73 L236.5,336.70 L237.0,336.66 L237.5,336.61 L238.0,336.55 L238.5,336.48 L239.0,336.40 L239.5,336.32 L240.0,336.23 L240.5,336.13 L241.0,336.03 L241.5,335.92 L242.0,335.81 L242.5,335.69 L243.0,335.57 L243.5,335.44 L244.0,335.31 L244.5,335.17 L245.0,335.03 L245.5,334.89 L246.0,334.73 L246.5,334.57 L247.0,334.40 L247.5,334.23 L248.0,334.04 L248.5,333.84 L249.0,333.64 L249.5,333.42 L250.0,333.18 L250.5,332.94 L251.0,332.68 L251.5,332.40 L252.0,332.11 L252.5,331.81 L253.0,331.49 L253.5,331.16 L254.0,330.82 L254.5,330.46 L255.0,330.09 L255.5,329.72 L256.0,329.34 L256.5,328.96 L257.0,328.57 L257.5,328.18 L258.0,327.79 L258.5,327.40 L259.0,327.01 L259.5,326.63 L260.0,326.25 L260.5,325.88 L261.0,325.51 L261.5,325.15 L262.0,324.80 L262.5,324.45 L263.0,324.10 L263.5,323.76 L264.0,323.42 L264.5,323.09 L265.0,322.76 L265.5,322.44 L266.0,322.11 L266.5,321.80 L267.0,321.48 L267.5,321.17 L268.0,320.86 L268.5,320.55 L269.0,320.25 L269.5,319.95 L270.0,319.65 L270.5,319.35 L271.0,319.06 L271.5,318.77 L272.0,318.49 L272.5,318.20 L273.0,317.93 L273.5,317.65 L274.0,317.38 L274.5,317.11 L275.0,316.85 L275.5,316.58 L276.0,316.32 L276.5,316.07 L277.0,315.81 L277.5,315.56 L278.0,315.31 L278.5,315.06 L279.0,314.81 L279.5,314.57 L280.0,314.33 L280.5,314.09 L281.0,313.86 L281.5,313.63 L282.0,313.40 L282.5,313.18 L283.0,312.96 L283.5,312.75 L284.0,312.54 L284.5,312.34 L285.0,312.15 L285.5,311.96 L286.0,311.78 L286.5,311.61 L287.0,311.44 L287.5,311.28 L288.0,311.12 L288.5,310.96 L289.0,310.81 L289.5,310.67 L290.0,310.52 L290.5,310.37 L291.0,310.22 L291.5,310.08 L292.0,309.92 L292.5,309.77 L293.0,309.61 L293.5,309.45 L294.0,309.27 L294.5,309.10 L295.0,308.91 L295.5,308.72 L296.0,308.51 L296.5,308.30 L297.0,308.08 L297.5,307.85 L298.0,307.61 L298.5,307.36 L299.0,307.11 L299.5,306.84 L300.0,306.57 L300.5,306.29 L301.0,306.00 L301.5,305.71 L302.0,305.41 L302.5,305.10 L303.0,304.79 L303.5,304.48 L304.0,304.16 L304.5,303.83 L305.0,303.51 L305.5,303.18 L306.0,302.85 L306.5,302.52 L307.0,302.18 L307.5,301.84 L308.0,301.50 L308.5,301.16 L309.0,300.82 L309.5,300.47 L310.0,300.12 L310.5,299.76 L311.0,299.41 L311.5,299.04 L312.0,298.67 L312.5,298.30 L313.0,297.91 L313.5,297.52 L314.0,297.13 L314.5,296.72 L315.0,296.31 L315.5,295.89 L316.0,295.46 L316.5,295.02 L317.0,294.58 L317.5,294.13 L318.0,293.67 L318.5,293.21 L319.0,292.75 L319.5,292.28 L320.0,291.82 L320.5,291.35 L321.0,290.89 L321.5,290.44 L322.0,289.99 L322.5,289.55 L323.0,289.12 L323.5,288.69 L324.0,288.28 L324.5,287.88 L325.0,287.48 L325.5,287.10 L326.0,286.73 L326.5,286.37 L327.0,286.02 L327.5,285.68 L328.0,285.35 L328.5,285.03 L329.0,284.71 L329.5,284.41 L330.0,284.11 L330.5,283.82 L331.0,283.54 L331.5,283.26 L332.0,282.99 L332.5,282.73 L333.0,282.47 L333.5,282.22 L334.0,281.98 L334.5,281.74 L335.0,281.51 L335.5,281.28 L336.0,281.06 L336.5,280.85 L337.0,280.64 L337.5,280.44 L338.0,280.24 L338.5,280.05 L339.0,279.86 L339.5,279.68 L340.0,279.50 L340.5,279.33 L341.0,279.16 L341.5,278.99 L342.0,278.83 L342.5,278.67 L343.0,278.52 L343.5,278.36 L344.0,278.22 L344.5,278.07 L345.0,277.93 L345.5,277.78 L346.0,277.65 L346.5,277.51 L347.0,277.38 L347.5,277.25 L348.0,277.12 L348.5,277.00 L349.0,276.88 L349.5,276.76 L350.0,276.65 L350.5,276.54 L351.0,276.43 L351.5,276.33 L352.0,276.23 L352.5,276.13 L353.0,276.04 L353.5,275.95 L354.0,275.86 L354.5,275.78 L355.0,275.71 L355.5,275.63 L356.0,275.56 L356.5,275.50 L357.0,275.44 L357.5,275.38 L358.0,275.33 L358.5,275.27 L359.0,275.23 L359.5,275.18 L360.0,275.14 L360.5,275.10 L361.0,275.07 L361.5,275.04 L362.0,275.01 L362.5,274.98 L363.0,274.95 L363.5,274.93 L364.0,274.91 L364.5,274.88 L365.0,274.86 L365.5,274.85 L366.0,274.83 L366.5,274.81 L367.0,274.79 L367.5,274.78 L368.0,274.76 L368.5,274.75 L369.0,274.73 L369.5,274.72 L370.0,274.70 L370.5,274.69 L371.0,274.68 L371.5,274.67 L372.0,274.65 L372.5,274.64 L373.0,274.63 L373.5,274.62 L374.0,274.61 L374.5,274.60 L375.0,274.59 L375.5,274.58 L376.0,274.57 L376.5,274.56 L377.0,274.56 L377.5,274.55 L378.0,274.54 L378.5,274.54 L379.0,274.53 L379.5,274.53 L380.0,274.52 L380.5,274.52 L381.0,274.52 L381.5,274.52 L382.0,274.52 L382.5,274.52 L383.0,274.52 L383.5,274.53 L384.0,274.54 L384.5,274.55 L385.0,274.57 L385.5,274.59 L386.0,274.61 L386.5,274.64 L387.0,274.67 L387.5,274.71 L388.0,274.75 L388.5,274.80 L389.0,274.85 L389.5,274.91 L390.0,274.96 L390.5,275.03 L391.0,275.09 L391.5,275.16 L392.0,275.23 L392.5,275.30 L393.0,275.37 L393.5,275.44 L394.0,275.51 L394.5,275.58 L395.0,275.65 L395.5,275.72 L396.0,275.79 L396.5,275.86 L397.0,275.93 L397.5,276.00 L398.0,276.07 L398.5,276.14 L399.0,276.22 L399.5,276.30 L400.0,276.38 L400.5,276.46 L401.0,276.54 L401.5,276.63 L402.0,276.72 L402.5,276.81 L403.0,276.90 L403.5,276.99 L404.0,277.08 L404.5,277.17 L405.0,277.26 L405.5,277.36 L406.0,277.44 L406.5,277.53 L407.0,277.62 L407.5,277.70 L408.0,277.78 L408.5,277.86 L409.0,277.93 L409.5,278.01 L410.0,278.08 L410.5,278.14 L411.0,278.21 L411.5,278.28 L412.0,278.34 L412.5,278.40 L413.0,278.46 L413.5,278.52 L414.0,278.58 L414.5,278.64 L415.0,278.71 L415.5,278.77 L416.0,278.84 L416.5,278.90 L417.0,278.97 L417.5,279.05 L418.0,279.13 L418.5,279.21 L419.0,279.29 L419.5,279.39 L420.0,279.48 L420.5,279.58 L421.0,279.69 L421.5,279.80 L422.0,279.92 L422.5,280.05 L423.0,280.18 L423.5,280.32 L424.0,280.46 L424.5,280.61 L425.0,280.76 L425.5,280.92 L426.0,281.08 L426.5,281.25 L427.0,281.43 L427.5,281.61 L428.0,281.80 L428.5,281.99 L429.0,282.19 L429.5,282.39 L430.0,282.60 L430.5,282.81 L431.0,283.03 L431.5,283.25 L432.0,283.47 L432.5,283.70 L433.0,283.94 L433.5,284.18 L434.0,284.42 L434.5,284.66 L435.0,284.91 L435.5,285.16 L436.0,285.42 L436.5,285.67 L437.0,285.93 L437.5,286.18 L438.0,286.44 L438.5,286.70 L439.0,286.96 L439.5,287.21 L440.0,287.47 L440.5,287.73 L441.0,287.98 L441.5,288.24 L442.0,288.50 L442.5,288.76 L443.0,289.02 L443.5,289.28 L444.0,289.55 L444.5,289.82 L445.0,290.09 L445.5,290.36 L446.0,290.64 L446.5,290.92 L447.0,291.21 L447.5,291.50 L448.0,291.80 L448.5,292.10 L449.0,292.41 L449.5,292.71 L450.0,293.03 L450.5,293.34 L451.0,293.66 L451.5,293.98 L452.0,294.31 L452.5,294.64 L453.0,294.97 L453.5,295.30 L454.0,295.64 L454.5,295.98 L455.0,296.32 L455.5,296.66 L456.0,297.00 L456.5,297.35 L457.0,297.70 L457.5,298.06 L458.0,298.41 L458.5,298.77 L459.0,299.13 L459.5,299.50 L460.0,299.86 L460.5,300.23 L461.0,300.60 L461.5,300.98 L462.0,301.35 L462.5,301.73 L463.0,302.11 L463.5,302.49 L464.0,302.88 L464.5,303.26 L465.0,303.65 L465.5,304.04 L466.0,304.43 L466.5,304.82 L467.0,305.21 L467.5,305.60 L468.0,306.00 L468.5,306.39 L469.0,306.78 L469.5,307.17 L470.0,307.56 L470.5,307.96 L471.0,308.35 L471.5,308.73 L472.0,309.12 L472.5,309.51 L473.0,309.90 L473.5,310.28 L474.0,310.67 L474.5,311.05 L475.0,311.44 L475.5,311.82 L476.0,312.21 L476.5,312.60 L477.0,312.99 L477.5,313.38 L478.0,313.78 L478.5,314.18 L479.0,314.58 L479.5,314.99 L480.0,315.40 L480.5,315.82 L481.0,316.24 L481.5,316.67 L482.0,317.10 L482.5,317.54 L483.0,317.98 L483.5,318.42 L484.0,318.87 L484.5,319.33 L485.0,319.78 L485.5,320.24 L486.0,320.71 L486.5,321.17 L487.0,321.64 L487.5,322.11 L488.0,322.57 L488.5,323.04 L489.0,323.52 L489.5,323.99 L490.0,324.46 L490.5,324.92 L491.0,325.39 L491.5,325.86 L492.0,326.32 L492.5,326.79 L493.0,327.25 L493.5,327.70 L494.0,328.16 L494.5,328.61 L495.0,329.06 L495.5,329.51 L496.0,329.95 L496.5,330.39 L497.0,330.83 L497.5,331.26 L498.0,331.69 L498.5,332.12 L499.0,332.54 L499.5,332.96 L500.0,333.37 L500.5,333.79 L501.0,334.20 L501.5,334.61 L502.0,335.01 L502.5,335.42 L503.0,335.82 L503.5,336.23 L504.0,336.63 L504.5,337.03 L505.0,337.44 L505.5,337.84 L506.0,338.25 L506.5,338.66 L507.0,339.07 L507.5,339.49 L508.0,339.90 L508.5,340.33 L509.0,340.75 L509.5,341.18 L510.0,341.61 L510.5,342.05 L511.0,342.49 L511.5,342.93 L512.0,343.37 L512.5,343.82 L513.0,344.27 L513.5,344.73 L514.0,345.18 L514.5,345.64 L515.0,346.10 L515.5,346.56 L516.0,347.02 L516.5,347.48 L517.0,347.94 L517.5,348.40 L518.0,348.86 L518.5,349.32 L519.0,349.79 L519.5,350.25 L520.0,350.71 L520.5,351.18 L521.0,351.64 L521.5,352.10 L522.0,352.57 L522.5,353.04 L523.0,353.51 L523.5,353.98 L524.0,354.45 L524.5,354.92 L525.0,355.40 L525.5,355.88 L526.0,356.36 L526.5,356.84 L527.0,357.33 L527.5,357.82 L528.0,358.31 L528.5,358.80 L529.0,359.29 L529.5,359.78 L530.0,360.27 L530.5,360.77 L531.0,361.26 L531.5,361.75 L532.0,362.24 L532.5,362.73 L533.0,363.21 L533.5,363.69 L534.0,364.17 L534.5,364.65 L535.0,365.12 L535.5,365.59 L536.0,366.05 L536.5,366.51 L537.0,366.96 L537.5,367.40 L538.0,367.85 L538.5,368.28 L539.0,368.71 L539.5,369.13 L540.0,369.55 L540.5,369.96 L541.0,370.37 L541.5,370.76 L542.0,371.16 L542.5,371.54 L543.0,371.92 L543.5,372.30 L544.0,372.66 L544.5,373.03 L545.0,373.38 L545.5,373.74 L546.0,374.09 L546.5,374.43 L547.0,374.77 L547.5,375.11 L548.0,375.44 L548.5,375.77 L549.0,376.10 L549.5,376.43 L550.0,376.76 L550.5,377.09 L551.0,377.42 L551.5,377.74 L552.0,378.07 L552.5,378.40 L553.0,378.73 L553.5,379.06 L554.0,379.39 L554.5,379.73 L555.0,380.06 L555.5,380.40 L556.0,380.73 L556.5,381.07 L557.0,381.41 L557.5,381.74 L558.0,382.08 L558.5,382.42 L559.0,382.76 L559.5,383.10 L560.0,383.43 L560.5,383.77 L561.0,384.10 L561.5,384.44 L562.0,384.77 L562.5,385.10 L563.0,385.43 L563.5,385.75 L564.0,386.08 L564.5,386.40 L565.0,386.73 L565.5,387.05 L566.0,387.36 L566.5,387.68 L567.0,388.00 L567.5,388.31 L568.0,388.62 L568.5,388.94 L569.0,389.25 L569.5,389.56 L570.0,389.86 L570.5,390.17 L571.0,390.48 L571.5,390.79 L572.0,391.10 L572.5,391.41 L573.0,391.72 L573.5,392.03 L574.0,392.34 L574.5,392.66 L575.0,392.97 L575.5,393.29 L576.0,393.61 L576.5,393.94 L577.0,394.27 L577.5,394.60 L578.0,394.93 L578.5,395.27 L579.0,395.62 L579.5,395.96 L580.0,396.31 L580.5,396.67 L581.0,397.02 L581.5,397.38 L582.0,397.74 L582.5,398.11 L583.0,398.47 L583.5,398.84 L584.0,399.21 L584.5,399.58 L585.0,399.95 L585.5,400.32 L586.0,400.69 L586.5,401.05 L587.0,401.42 L587.5,401.78 L588.0,402.15 L588.5,402.51 L589.0,402.87 L589.5,403.22 L590.0,403.57 L590.5,403.92 L591.0,404.27 L591.5,404.61 L592.0,404.95 L592.5,405.29 L593.0,405.62 L593.5,405.95 L594.0,406.28 L594.5,406.60 L595.0,406.92 L595.5,407.24 L596.0,407.55 L596.5,407.86 L597.0,408.17 L597.5,408.48 L598.0,408.78 L598.5,409.08 L599.0,409.38 L599.5,409.67 L600.0,409.97 L600.5,410.26 L601.0,410.55 L601.5,410.84 L602.0,411.13 L602.5,411.42 L603.0,411.70 L603.5,411.99 L604.0,412.28 L604.5,412.57 L605.0,412.85 L605.5,413.14 L606.0,413.43 L606.5,413.72 L607.0,414.01 L607.5,414.30 L608.0,414.59 L608.5,414.88 L609.0,415.17 L609.5,415.46 L610.0,415.74 L610.5,416.03 L611.0,416.32 L611.5,416.61 L612.0,416.89 L612.5,417.18 L613.0,417.46 L613.5,417.74 L614.0,418.02 L614.5,418.30 L615.0,418.58 L615.5,418.86 L616.0,419.13 L616.5,419.40 L617.0,419.67 L617.5,419.93 L618.0,420.20 L618.5,420.46 L619.0,420.72 L619.5,420.97 L620.0,421.23 L620.5,421.48 L621.0,421.73 L621.5,421.97 L622.0,422.21 L622.5,422.45 L623.0,422.69 L623.5,422.92 L624.0,423.15 L624.5,423.38 L625.0,423.60 L625.5,423.83 L626.0,424.05 L626.5,424.26 L627.0,424.48 L627.5,424.69 L628.0,424.90 L628.5,425.11 L629.0,425.31 L629.5,425.52 L630.0,425.72 L630.5,425.92 L631.0,426.11 L631.5,426.31 L632.0,426.50 L632.5,426.69 L633.0,426.89 L633.5,427.07 L634.0,427.26 L634.5,427.45 L635.0,427.63 L635.5,427.82 L636.0,428.00 L636.5,428.18 L637.0,428.36 L637.5,428.54 L638.0,428.71 L638.5,428.89 L639.0,429.07 L639.5,429.24 L640.0,429.41 L640.5,429.58 L641.0,429.75 L641.5,429.92 L642.0,430.09 L642.5,430.26 L643.0,430.42 L643.5,430.58 L644.0,430.74 L644.5,430.90 L645.0,431.06 L645.5,431.22 L646.0,431.37 L646.5,431.53 L647.0,431.68 L647.5,431.82 L648.0,431.97 L648.5,432.11 L649.0,432.25 L649.5,432.39 L650.0,432.52 L650.5,432.66 L651.0,432.78 L651.5,432.91 L652.0,433.03 L652.5,433.15 L653.0,433.26 L653.5,433.37 L654.0,433.47 L654.5,433.57 L655.0,433.67 L655.5,433.75 L656.0,433.83 L656.5,433.91 L657.0,433.97 L657.5,434.03 L658.0,434.08" stroke="#0000ff"/>
<path d="M117.5,212.89 L118.0,212.98 L118.5,213.09 L119.0,213.21 L119.5,213.34 L120.0,213.48 L120.5,213.63 L121.0,213.79 L121.5,213.95 L122.0,214.12 L122.5,214.29 L123.0,214.46 L123.5,214.62 L124.0,214.78 L124.5,214.93 L125.0,215.08 L125.5,215.20 L126.0,215.32 L126.5,215.42 L127.0,215.50 L127.5,215.57 L128.0,215.61 L128.5,215.64 L129.0,215.65 L129.5,215.64 L130.0,215.61 L130.5,215.56 L131.0,215.50 L131.5,215.42 L132.0,215.33 L132.5,215.23 L133.0,215.11 L133.5,214.99 L134.0,214.85 L134.5,214.71 L135.0,214.56 L135.5,214.40 L136.0,214.24 L136.5,214.08 L137.0,213.91 L137.5,213.74 L138.0,213.56 L138.5,213.39 L139.0,213.21 L139.5,213.03 L140.0,212.85 L140.5,212.67 L141.0,212.50 L141.5,212.32 L142.0,212.14 L142.5,211.96 L143.0,211.79 L143.5,211.62 L144.0,211.45 L144.5,211.28 L145.0,211.13 L145.5,210.97 L146.0,210.82 L146.5,210.68 L147.0,210.54 L147.5,210.42 L148.0,210.29 L148.5,210.18 L149.0,210.08 L149.5,209.98 L150.0,209.89 L150.5,209.81 L151.0,209.73 L151.5,209.67 L152.0,209.61 L152.5,209.57 L153.0,209.53 L153.5,209.51 L154.0,209.50 L154.5,209.50 L155.0,209.52 L155.5,209.56 L156.0,209.62 L156.5,209.69 L157.0,209.79 L157.5,209.92 L158.0,210.07 L158.5,210.25 L159.0,210.45 L159.5,210.69 L160.0,210.97 L160.5,211.27 L161.0,211.61 L161.5,211.98 L162.0,212.39 L162.5,212.82 L163.0,213.29 L163.5,213.79 L164.0,214.32 L164.5,214.88 L165.0,215.46 L165.5,216.07 L166.0,216.71 L166.5,217.37 L167.0,218.05 L167.5,218.75 L168.0,219.47 L168.5,220.21 L169.0,220.96 L169.5,221.74 L170.0,222.53 L170.5,223.33 L171.0,224.16 L171.5,225.00 L172.0,225.85 L172.5,226.73 L173.0,227.62 L173.5,228.53 L174.0,229.46 L174.5,230.41 L175.0,231.37 L175.5,232.36 L176.0,233.36 L176.5,234.38 L177.0,235.42 L177.5,236.48 L178.0,237.55 L178.5,238.64 L179.0,239.74 L179.5,240.86 L180.0,241.98 L180.5,243.11 L181.0,244.26 L181.5,245.41 L182.0,246.56 L182.5,247.73 L183.0,248.90 L183.5,250.08 L184.0,251.26 L184.5,252.46 L185.0,253.66 L185.5,254.87 L186.0,256.08 L186.5,257.31 L187.0,258.54 L187.5,259.78 L188.0,261.02 L188.5,262.27 L189.0,263.51 L189.5,264.76 L190.0,266.00 L190.5,267.24 L191.0,268.46 L191.5,269.68 L192.0,270.89 L192.5,272.08 L193.0,273.26 L193.5,274.43 L194.0,275.58 L194.5,276.71 L195.0,277.84 L195.5,278.95 L196.0,280.05 L196.5,281.13 L197.0,282.21 L197.5,283.28 L198.0,284.33 L198.5,285.38 L199.0,286.41 L199.5,287.43 L200.0,288.44 L200.5,289.43 L201.0,290.41 L201.5,291.37 L202.0,292.32 L202.5,293.24 L203.0,294.15 L203.5,295.03 L204.0,295.90 L204.5,296.74 L205.0,297.57 L205.5,298.37 L206.0,299.16 L206.5,299.93 L207.0,300.68 L207.5,301.41 L208.0,302.13 L208.5,302.84 L209.0,303.53 L209.5,304.21 L210.0,304.89 L210.5,305.55 L211.0,306.20 L211.5,306.84 L212.0,307.48 L212.5,308.10 L213.0,308.72 L213.5,309.33 L214.0,309.93 L214.5,310.51 L215.0,311.09 L215.5,311.66 L216.0,312.21 L216.5,312.75 L217.0,313.28 L217.5,313.80 L218.0,314.30 L218.5,314.78 L219.0,315.25 L219.5,315.70 L220.0,316.14 L220.5,316.55 L221.0,316.95 L221.5,317.34 L222.0,317.70 L222.5,318.05 L223.0,318.38 L223.5,318.69 L224.0,318.99 L224.5,319.28 L225.0,319.54 L225.5,319.80 L226.0,320.04 L226.5,320.26 L227.0,320.48 L227.5,320.68 L228.0,320.87 L228.5,321.04 L229.0,321.21 L229.5,321.37 L230.0,321.51 L230.5,321.64 L231.0,321.77 L231.5,321.88 L232.0,321.98 L232.5,322.07 L233.0,322.15 L233.5,322.22 L234.0,322.28 L234.5,322.33 L235.0,322.36 L235.5,322.38 L236.0,322.40 L236.5,322.40 L237.0,322.38 L237.5,322.36 L238.0,322.32 L238.5,322.27 L239.0,322.21 L239.5,322.14 L240.0,322.05 L240.5,321.96 L241.0,321.85 L241.5,321.73 L242.0,321.61 L242.5,321.47 L243.0,321.32 L243.5,321.17 L244.0,321.00 L244.5,320.83 L245.0,320.65 L245.5,320.46 L246.0,320.27 L246.5,320.07 L247.0,319.86 L247.5,319.65 L248.0,319.44 L248.5,319.22 L249.0,318.99 L249.5,318.76 L250.0,318.53 L250.5,318.30 L251.0,318.07 L251.5,317.83 L252.0,317.59 L252.5,317.35 L253.0,317.11 L253.5,316.88 L254.0,316.64 L254.5,316.40 L255.0,316.16 L255.5,315.93 L256.0,315.69 L256.5,315.46 L257.0,315.23 L257.5,315.01 L258.0,314.78 L258.5,314.56 L259.0,314.34 L259.5,314.12 L260.0,313.91 L260.5,313.69 L261.0,313.48 L261.5,313.27 L262.0,313.06 L262.5,312.85 L263.0,312.64 L263.5,312.43 L264.0,312.22 L264.5,312.00 L265.0,311.79 L265.5,311.57 L266.0,311.35 L266.5,311.13 L267.0,310.90 L267.5,310.67 L268.0,310.44 L268.5,310.21 L269.0,309.97 L269.5,309.73 L270.0,309.49 L270.5,309.24 L271.0,309.00 L271.5,308.75 L272.0,308.50 L272.5,308.24 L273.0,307.99 L273.5,307.73 L274.0,307.48 L274.5,307.22 L275.0,306.97 L275.5,306.71 L276.0,306.46 L276.5,306.20 L277.0,305.95 L277.5,305.70 L278.0,305.45 L278.5,305.20 L279.0,304.95 L279.5,304.71 L280.0,304.47 L280.5,304.24 L281.0,304.00 L281.5,303.77 L282.0,303.55 L282.5,303.33 L283.0,303.11 L283.5,302.90 L284.0,302.69 L284.5,302.49 L285.0,302.29 L285.5,302.10 L286.0,301.90 L286.5,301.72 L287.0,301.53 L287.5,301.35 L288.0,301.17 L288.5,301.00 L289.0,300.82 L289.5,300.65 L290.0,300.47 L290.5,300.30 L291.0,300.12 L291.5,299.95 L292.0,299.77 L292.5,299.58 L293.0,299.40 L293.5,299.20 L294.0,299.01 L294.5,298.81 L295.0,298.60 L295.5,298.39 L296.0,298.17 L296.5,297.95 L297.0,297.72 L297.5,297.49 L298.0,297.25 L298.5,297.00 L299.0,296.75 L299.5,296.49 L300.0,296.23 L300.5,295.96 L301.0,295.69 L301.5,295.42 L302.0,295.15 L302.5,294.87 L303.0,294.59 L303.5,294.31 L304.0,294.02 L304.5,293.74 L305.0,293.45 L305.5,293.17 L306.0,292.88 L306.5,292.60 L307.0,292.31 L307.5,292.03 L308.0,291.74 L308.5,291.45 L309.0,291.16 L309.5,290.87 L310.0,290.58 L310.5,290.28 L311.0,289.98 L311.5,289.67 L312.0,289.36 L312.5,289.04 L313.0,288.71 L313.5,288.38 L314.0,288.03 L314.5,287.68 L315.0,287.32 L315.5,286.95 L316.0,286.56 L316.5,286.17 L317.0,285.78 L317.5,285.37 L318.0,284.96 L318.5,284.54 L319.0,284.13 L319.5,283.71 L320.0,283.29 L320.5,282.88 L321.0,282.47 L321.5,282.06 L322.0,281.67 L322.5,281.29 L323.0,280.92 L323.5,280.56 L324.0,280.21 L324.5,279.87 L325.0,279.55 L325.5,279.23 L326.0,278.93 L326.5,278.64 L327.0,278.35 L327.5,278.07 L328.0,277.80 L328.5,277.53 L329.0,277.27 L329.5,277.01 L330.0,276.75 L330.5,276.49 L331.0,276.23 L331.5,275.98 L332.0,275.73 L332.5,275.47 L333.0,275.22 L333.5,274.97 L334.0,274.73 L334.5,274.48 L335.0,274.24 L335.5,273.99 L336.0,273.76 L336.5,273.52 L337.0,273.29 L337.5,273.07 L338.0,272.84 L338.5,272.63 L339.0,272.41 L339.5,272.20 L340.0,272.00 L340.5,271.80 L341.0,271.61 L341.5,271.42 L342.0,271.24 L342.5,271.06 L343.0,270.89 L343.5,270.72 L344.0,270.56 L344.5,270.40 L345.0,270.25 L345.5,270.10 L346.0,269.96 L346.5,269.81 L347.0,269.68 L347.5,269.55 L348.0,269.42 L348.5,269.29 L349.0,269.17 L349.5,269.05 L350.0,268.93 L350.5,268.81 L351.0,268.70 L351.5,268.59 L352.0,268.48 L352.5,268.37 L353.0,268.27 L353.5,268.16 L354.0,268.06 L354.5,267.97 L355.0,267.87 L355.5,267.78 L356.0,267.69 L356.5,267.60 L357.0,267.51 L357.5,267.43 L358.0,267.34 L358.5,267.27 L359.0,267.19 L359.5,267.11 L360.0,267.04 L360.5,266.97 L361.0,266.90 L361.5,266.84 L362.0,266.77 L362.5,266.70 L363.0,266.64 L363.5,266.58 L364.0,266.51 L364.5,266.45 L365.0,266.39 L365.5,266.33 L366.0,266.26 L366.5,266.20 L367.0,266.14 L367.5,266.08 L368.0,266.02 L368.5,265.96 L369.0,265.90 L369.5,265.85 L370.0,265.80 L370.5,265.75 L371.0,265.70 L371.5,265.66 L372.0,265.62 L372.5,265.59 L373.0,265.56 L373.5,265.54 L374.0,265.52 L374.5,265.51 L375.0,265.50 L375.5,265.50 L376.0,265.51 L376.5,265.52 L377.0,265.54 L377.5,265.56 L378.0,265.58 L378.5,265.61 L379.0,265.64 L379.5,265.68 L380.0,265.72 L380.5,265.76 L381.0,265.80 L381.5,265.84 L382.0,265.89 L382.5,265.93 L383.0,265.98 L383.5,266.02 L384.0,266.07 L384.5,266.12 L385.0,266.17 L385.5,266.21 L386.0,266.26 L386.5,266.31 L387.0,266.36 L387.5,266.40 L388.0,266.45 L388.5,266.50 L389.0,266.55 L389.5,266.59 L390.0,266.64 L390.5,266.69 L391.0,266.74 L391.5,266.78 L392.0,266.83 L392.5,266.88 L393.0,266.93 L393.5,266.98 L394.0,267.02 L394.5,267.07 L395.0,267.12 L395.5,267.17 L396.0,267.22 L396.5,267.26 L397.0,267.31 L397.5,267.35 L398.0,267.40 L398.5,267.44 L399.0,267.48 L399.5,267.52 L400.0,267.56 L400.5,267.60 L401.0,267.64 L401.5,267.68 L402.0,267.72 L402.5,267.75 L403.0,267.79 L403.5,267.83 L404.0,267.87 L404.5,267.91 L405.0,267.95 L405.5,268.00 L406.0,268.05 L406.5,268.10 L407.0,268.16 L407.5,268.21 L408.0,268.28 L408.5,268.34 L409.0,268.41 L409.5,268.49 L410.0,268.56 L410.5,268.64 L411.0,268.73 L411.5,268.82 L412.0,268.91 L412.5,269.01 L413.0,269.11 L413.5,269.21 L414.0,269.32 L414.5,269.43 L415.0,269.54 L415.5,269.66 L416.0,269.78 L416.5,269.91 L417.0,270.04 L417.5,270.17 L418.0,270.31 L418.5,270.44 L419.0,270.59 L419.5,270.73 L420.0,270.88 L420.5,271.04 L421.0,271.19 L421.5,271.35 L422.0,271.52 L422.5,271.69 L423.0,271.87 L423.5,272.05 L424.0,272.23 L424.5,272.42 L425.0,272.62 L425.5,272.83 L426.0,273.04 L426.5,273.25 L427.0,273.48 L427.5,273.71 L428.0,273.94 L428.5,274.19 L429.0,274.44 L429.5,274.71 L430.0,274.98 L430.5,275.25 L431.0,275.54 L431.5,275.84 L432.0,276.14 L432.5,276.45 L433.0,276.77 L433.5,277.10 L434.0,277.43 L434.5,277.77 L435.0,278.12 L435.5,278.47 L436.0,278.83 L436.5,279.19 L437.0,279.55 L437.5,279.91 L438.0,280.27 L438.5,280.64 L439.0,281.00 L439.5,281.36 L440.0,281.72 L440.5,282.08 L441.0,282.44 L441.5,282.79 L442.0,283.15 L442.5,283.50 L443.0,283.85 L443.5,284.21 L444.0,284.56 L444.5,284.92 L445.0,285.28 L445.5,285.64 L446.0,286.01 L446.5,286.37 L447.0,286.74 L447.5,287.12 L448.0,287.49 L448.5,287.87 L449.0,288.25 L449.5,288.63 L450.0,289.01 L450.5,289.40 L451.0,289.78 L451.5,290.16 L452.0,290.54 L452.5,290.92 L453.0,291.30 L453.5,291.68 L454.0,292.06 L454.5,292.43 L455.0,292.81 L455.5,293.18 L456.0,293.56 L456.5,293.93 L457.0,294.31 L457.5,294.69 L458.0,295.07 L458.5,295.45 L459.0,295.83 L459.5,296.22 L460.0,296.61 L460.5,297.01 L461.0,297.41 L461.5,297.82 L462.0,298.24 L462.5,298.66 L463.0,299.08 L463.5,299.52 L464.0,299.96 L464.5,300.41 L465.0,300.86 L465.5,301.33 L466.0,301.80 L466.5,302.27 L467.0,302.76 L467.5,303.24 L468.0,303.74 L468.5,304.23 L469.0,304.73 L469.5,305.23 L470.0,305.73 L470.5,306.23 L471.0,306.73 L471.5,307.24 L472.0,307.73 L472.5,308.23 L473.0,308.73 L473.5,309.22 L474.0,309.71 L474.5,310.20 L475.0,310.69 L475.5,311.17 L476.0,311.66 L476.5,312.14 L477.0,312.63 L477.5,313.12 L478.0,313.61 L478.5,314.10 L479.0,314.59 L479.5,315.08 L480.0,315.58 L480.5,316.08 L481.0,316.59 L481.5,317.10 L482.0,317.61 L482.5,318.12 L483.0,318.64 L483.5,319.16 L484.0,319.69 L484.5,320.21 L485.0,320.74 L485.5,321.27 L486.0,321.80 L486.5,322.33 L487.0,322.85 L487.5,323.38 L488.0,323.91 L488.5,324.43 L489.0,324.95 L489.5,325.48 L490.0,325.99 L490.5,326.51 L491.0,327.02 L491.5,327.53 L492.0,328.03 L492.5,328.53 L493.0,329.03 L493.5,329.53 L494.0,330.02 L494.5,330.51 L495.0,331.00 L495.5,331.48 L496.0,331.97 L496.5,332.46 L497.0,332.94 L497.5,333.43 L498.0,333.91 L498.5,334.40 L499.0,334.89 L499.5,335.38 L500.0,335.87 L500.5,336.37 L501.0,336.87 L501.5,337.37 L502.0,337.87 L502.5,338.38 L503.0,338.88 L503.5,339.39 L504.0,339.91 L504.5,340.42 L505.0,340.94 L505.5,341.45 L506.0,341.97 L506.5,342.49 L507.0,343.00 L507.5,343.52 L508.0,344.03 L508.5,344.54 L509.0,345.05 L509.5,345.56 L510.0,346.07 L510.5,346.57 L511.0,347.08 L511.5,347.58 L512.0,348.08 L512.5,348.57 L513.0,349.07 L513.5,349.56 L514.0,350.06 L514.5,350.55 L515.0,351.05 L515.5,351.54 L516.0,352.04 L516.5,352.54 L517.0,353.03 L517.5,353.53 L518.0,354.03 L518.5,354.53 L519.0,355.03 L519.5,355.53 L520.0,356.04 L520.5,356.54 L521.0,357.04 L521.5,357.55 L522.0,358.05 L522.5,358.56 L523.0,359.06 L523.5,359.56 L524.0,360.06 L524.5,360.56 L525.0,361.06 L525.5,361.56 L526.0,362.05 L526.5,362.54 L527.0,363.03 L527.5,363.52 L528.0,364.00 L528.5,364.48 L529.0,364.95 L529.5,365.42 L530.0,365.89 L530.5,366.36 L531.0,366.81 L531.5,367.27 L532.0,367.72 L532.5,368.17 L533.0,368.61 L533.5,369.04 L534.0,369.47 L534.5,369.90 L535.0,370.32 L535.5,370.74 L536.0,371.15 L536.5,371.56 L537.0,371.96 L537.5,372.35 L538.0,372.74 L538.5,373.12 L539.0,373.50 L539.5,373.87 L540.0,374.24 L540.5,374.60 L541.0,374.96 L541.5,375.30 L542.0,375.65 L542.5,375.99 L543.0,376.32 L543.5,376.65 L544.0,376.97 L544.5,377.29 L545.0,377.60 L545.5,377.91 L546.0,378.22 L546.5,378.52 L547.0,378.83 L547.5,379.13 L548.0,379.42 L548.5,379.72 L549.0,380.02 L549.5,380.32 L550.0,380.62 L550.5,380.92 L551.0,381.22 L551.5,381.53 L552.0,381.84 L552.5,382.15 L553.0,382.46 L553.5,382.78 L554.0,383.10 L554.5,383.42 L555.0,383.74 L555.5,384.07 L556.0,384.40 L556.5,384.73 L557.0,385.06 L557.5,385.39 L558.0,385.72 L558.5,386.05 L559.0,386.38 L559.5,386.71 L560.0,387.04 L560.5,387.36 L561.0,387.68 L561.5,388.00 L562.0,388.32 L562.5,388.64 L563.0,388.95 L563.5,389.26 L564.0,389.57 L564.5,389.88 L565.0,390.19 L565.5,390.49 L566.0,390.80 L566.5,391.10 L567.0,391.40 L567.5,391.71 L568.0,392.01 L568.5,392.32 L569.0,392.63 L569.5,392.93 L570.0,393.25 L570.5,393.56 L571.0,393.87 L571.5,394.19 L572.0,394.51 L572.5,394.83 L573.0,395.15 L573.5,395.48 L574.0,395.80 L574.5,396.13 L575.0,396.46 L575.5,396.79 L576.0,397.12 L576.5,397.46 L577.0,397.79 L577.5,398.13 L578.0,398.46 L578.5,398.80 L579.0,399.13 L579.5,399.47 L580.0,399.81 L580.5,400.14 L581.0,400.48 L581.5,400.82 L582.0,401.15 L582.5,401.49 L583.0,401.82 L583.5,402.16 L584.0,402.49 L584.5,402.83 L585.0,403.16 L585.5,403.50 L586.0,403.83 L586.5,404.16 L587.0,404.50 L587.5,404.83 L588.0,405.16 L588.5,405.49 L589.0,405.83 L589.5,406.16 L590.0,406.49 L590.5,406.83 L591.0,407.16 L591.5,407.49 L592.0,407.82 L592.5,408.16 L593.0,408.49 L593.5,408.83 L594.0,409.16 L594.5,409.50 L595.0,409.83 L595.5,410.17 L596.0,410.51 L596.5,410.85 L597.0,411.18 L597.5,411.52 L598.0,411.86 L598.5,412.20 L599.0,412.54 L599.5,412.87 L600.0,413.21 L600.5,413.54 L601.0,413.88 L601.5,414.21 L602.0,414.54 L602.5,414.87 L603.0,415.20 L603.5,415.52 L604.0,415.84 L604.5,416.16 L605.0,416.48 L605.5,416.79 L606.0,417.11 L606.5,417.41 L607.0,417.72 L607.5,418.02 L608.0,418.32 L608.5,418.62 L609.0,418.91 L609.5,419.20 L610.0,419.49 L610.5,419.78 L611.0,420.06 L611.5,420.35 L612.0,420.63 L612.5,420.90 L613.0,421.18 L613.5,421.46 L614.0,421.73 L614.5,422.00 L615.0,422.27 L615.5,422.54 L616.0,422.81 L616.5,423.07 L617.0,423.34 L617.5,423.60 L618.0,423.86 L618.5,424.13 L619.0,424.39 L619.5,424.65 L620.0,424.90 L620.5,425.16 L621.0,425.42 L621.5,425.67 L622.0,425.93 L622.5,426.18 L623.0,426.43 L623.5,426.68 L624.0,426.93 L624.5,427.18 L625.0,427.43 L625.5,427.68 L626.0,427.92 L626.5,428.16 L627.0,428.41 L627.5,428.65 L628.0,428.89 L628.5,429.12 L629.0,429.36 L629.5,429.59 L630.0,429.82 L630.5,430.05 L631.0,430.28 L631.5,430.51 L632.0,430.73 L632.5,430.95 L633.0,431.17 L633.5,431.39 L634.0,431.60 L634.5,431.81 L635.0,432.02 L635.5,432.23 L636.0,432.43 L636.5,432.63 L637.0,432.83 L637.5,433.03 L638.0,433.23 L638.5,433.42 L639.0,433.61 L639.5,433.80 L640.0,433.98 L640.5,434.17 L641.0,434.35 L641.5,434.53 L642.0,434.70 L642.5,434.88 L643.0,435.05 L643.5,435.22 L644.0,435.39 L644.5,435.55 L645.0,435.72 L645.5,435.88 L646.0,436.04 L646.5,436.20 L647.0,436.36 L647.5,436.52 L648.0,436.67 L648.5,436.83 L649.0,436.98 L649.5,437.14 L650.0,437.29 L650.5,437.44 L651.0,437.59 L651.5,437.74 L652.0,437.89 L652.5,438.04 L653.0,438.18 L653.5,438.32 L654.0,438.46 L654.5,438.59 L655.0,438.72 L655.5,438.85 L656.0,438.96 L656.5,439.07 L657.0,439.17 L657.5,439.26 L658.0,439.34" stroke="#ff00ff"/>
<path d="M117.5,205.95 L118.0,206.33 L118.5,206.72 L119.0,207.14 L119.5,207.57 L120.0,207.99 L120.5,208.41 L121.0,208.81 L121.5,209.19 L122.0,209.54 L122.5,209.85 L123.0,210.13 L123.5,210.37 L124.0,210.57 L124.5,210.74 L125.0,210.86 L125.5,210.96 L126.0,211.01 L126.5,211.04 L127.0,211.03 L127.5,211.00 L128.0,210.93 L128.5,210.85 L129.0,210.74 L129.5,210.60 L130.0,210.44 L130.5,210.26 L131.0,210.07 L131.5,209.85 L132.0,209.62 L132.5,209.37 L133.0,209.10 L133.5,208.83 L134.0,208.54 L134.5,208.24 L135.0,207.93 L135.5,207.62 L136.0,207.30 L136.5,206.98 L137.0,206.66 L137.5,206.34 L138.0,206.03 L138.5,205.71 L139.0,205.40 L139.5,205.10 L140.0,204.81 L140.5,204.53 L141.0,204.25 L141.5,203.99 L142.0,203.73 L142.5,203.49 L143.0,203.26 L143.5,203.03 L144.0,202.81 L144.5,202.61 L145.0,202.41 L145.5,202.21 L146.0,202.03 L146.5,201.85 L147.0,201.67 L147.5,201.51 L148.0,201.34 L148.5,201.18 L149.0,201.03 L149.5,200.88 L150.0,200.73 L150.5,200.59 L151.0,200.45 L151.5,200.32 L152.0,200.20 L152.5,200.08 L153.0,199.97 L153.5,199.87 L154.0,199.78 L154.5,199.71 L155.0,199.65 L155.5,199.60 L156.0,199.58 L156.5,199.57 L157.0,199.59 L157.5,199.64 L158.0,199.71 L158.5,199.81 L159.0,199.94 L159.5,200.11 L160.0,200.31 L160.5,200.54 L161.0,200.81 L161.5,201.11 L162.0,201.44 L162.5,201.82 L163.0,202.22 L163.5,202.66 L164.0,203.13 L164.5,203.63 L165.0,204.16 L165.5,204.72 L166.0,205.31 L166.5,205.92 L167.0,206.56 L167.5,207.23 L168.0,207.91 L168.5,208.62 L169.0,209.35 L169.5,210.10 L170.0,210.88 L170.5,211.67 L171.0,212.48 L171.5,213.31 L172.0,214.16 L172.5,215.03 L173.0,215.92 L173.5,216.83 L174.0,217.76 L174.5,218.71 L175.0,219.67 L175.5,220.66 L176.0,221.66 L176.5,222.68 L177.0,223.72 L177.5,224.78 L178.0,225.85 L178.5,226.94 L179.0,228.04 L179.5,229.16 L180.0,230.28 L180.5,231.42 L181.0,232.56 L181.5,233.71 L182.0,234.87 L182.5,236.04 L183.0,237.21 L183.5,238.39 L184.0,239.57 L184.5,240.77 L185.0,241.97 L185.5,243.19 L186.0,244.42 L186.5,245.67 L187.0,246.93 L187.5,248.21 L188.0,249.51 L188.5,250.83 L189.0,252.17 L189.5,253.53 L190.0,254.91 L190.5,256.30 L191.0,257.72 L191.5,259.14 L192.0,260.57 L192.5,262.01 L193.0,263.44 L193.5,264.87 L194.0,266.28 L194.5,267.68 L195.0,269.06 L195.5,270.41 L196.0,271.73 L196.5,273.03 L197.0,274.30 L197.5,275.54 L198.0,276.76 L198.5,277.96 L199.0,279.13 L199.5,280.29 L200.0,281.43 L200.5,282.56 L201.0,283.69 L201.5,284.80 L202.0,285.92 L202.5,287.03 L203.0,288.13 L203.5,289.23 L204.0,290.32 L204.5,291.40 L205.0,292.46 L205.5,293.51 L206.0,294.53 L206.5,295.53 L207.0,296.50 L207.5,297.45 L208.0,298.36 L208.5,299.25 L209.0,300.10 L209.5,300.93 L210.0,301.72 L210.5,302.49 L211.0,303.23 L211.5,303.94 L212.0,304.63 L212.5,305.31 L213.0,305.96 L213.5,306.59 L214.0,307.21 L214.5,307.82 L215.0,308.41 L215.5,308.99 L216.0,309.55 L216.5,310.11 L217.0,310.65 L217.5,311.17 L218.0,311.69 L218.5,312.19 L219.0,312.67 L219.5,313.14 L220.0,313.60 L220.5,314.04 L221.0,314.46 L221.5,314.87 L222.0,315.26 L222.5,315.63 L223.0,315.99 L223.5,316.32 L224.0,316.64 L224.5,316.95 L225.0,317.24 L225.5,317.51 L226.0,317.77 L226.5,318.01 L227.0,318.24 L227.5,318.45 L228.0,318.64 L228.5,318.82 L229.0,318.98 L229.5,319.12 L230.0,319.25 L230.5,319.36 L231.0,319.45 L231.5,319.52 L232.0,319.57 L232.5,319.61 L233.0,319.62 L233.5,319.62 L234.0,319.59 L234.5,319.55 L235.0,319.48 L235.5,319.40 L236.0,319.31 L236.5,319.19 L237.0,319.07 L237.5,318.92 L238.0,318.76 L238.5,318.59 L239.0,318.41 L239.5,318.22 L240.0,318.02 L240.5,317.81 L241.0,317.59 L241.5,317.37 L242.0,317.14 L242.5,316.90 L243.0,316.66 L243.5,316.41 L244.0,316.16 L244.5,315.90 L245.0,315.65 L245.5,315.38 L246.0,315.12 L246.5,314.85 L247.0,314.57 L247.5,314.30 L248.0,314.01 L248.5,313.72 L249.0,313.43 L249.5,313.13 L250.0,312.83 L250.5,312.52 L251.0,312.20 L251.5,311.88 L252.0,311.55 L252.5,311.22 L253.0,310.88 L253.5,310.54 L254.0,310.20 L254.5,309.85 L255.0,309.51 L255.5,309.16 L256.0,308.81 L256.5,308.46 L257.0,308.11 L257.5,307.77 L258.0,307.42 L258.5,307.08 L259.0,306.74 L259.5,306.41 L260.0,306.08 L260.5,305.75 L261.0,305.42 L261.5,305.10 L262.0,304.78 L262.5,304.46 L263.0,304.14 L263.5,303.82 L264.0,303.51 L264.5,303.19 L265.0,302.88 L265.5,302.56 L266.0,302.24 L266.5,301.93 L267.0,301.61 L267.5,301.29 L268.0,300.97 L268.5,300.65 L269.0,300.33 L269.5,300.01 L270.0,299.69 L270.5,299.37 L271.0,299.06 L271.5,298.74 L272.0,298.43 L272.5,298.11 L273.0,297.80 L273.5,297.50 L274.0,297.19 L274.5,296.89 L275.0,296.59 L275.5,296.29 L276.0,296.00 L276.5,295.71 L277.0,295.42 L277.5,295.14 L278.0,294.86 L278.5,294.58 L279.0,294.31 L279.5,294.04 L280.0,293.77 L280.5,293.51 L281.0,293.24 L281.5,292.98 L282.0,292.73 L282.5,292.47 L283.0,292.22 L283.5,291.97 L284.0,291.72 L284.5,291.47 L285.0,291.23 L285.5,290.98 L286.0,290.74 L286.5,290.50 L287.0,290.25 L287.5,290.01 L288.0,289.77 L288.5,289.53 L289.0,289.28 L289.5,289.04 L290.0,288.79 L290.5,288.54 L291.0,288.29 L291.5,288.04 L292.0,287.79 L292.5,287.53 L293.0,287.26 L293.5,287.00 L294.0,286.73 L294.5,286.45 L295.0,286.17 L295.5,285.89 L296.0,285.60 L296.5,285.31 L297.0,285.01 L297.5,284.70 L298.0,284.39 L298.5,284.08 L299.0,283.75 L299.5,283.43 L300.0,283.10 L300.5,282.76 L301.0,282.42 L301.5,282.07 L302.0,281.72 L302.5,281.36 L303.0,281.00 L303.5,280.63 L304.0,280.26 L304.5,279.88 L305.0,279.50 L305.5,279.12 L306.0,278.73 L306.5,278.34 L307.0,277.94 L307.5,277.55 L308.0,277.15 L308.5,276.74 L309.0,276.34 L309.5,275.94 L310.0,275.53 L310.5,275.13 L311.0,274.72 L311.5,274.32 L312.0,273.91 L312.5,273.51 L313.0,273.11 L313.5,272.72 L314.0,272.32 L314.5,271.93 L315.0,271.54 L315.5,271.16 L316.0,270.78 L316.5,270.41 L317.0,270.04 L317.5,269.67 L318.0,269.30 L318.5,268.94 L319.0,268.58 L319.5,268.22 L320.0,267.86 L320.5,267.50 L321.0,267.14 L321.5,266.78 L322.0,266.42 L322.5,266.06 L323.0,265.69 L323.5,265.32 L324.0,264.95 L324.5,264.58 L325.0,264.22 L325.5,263.85 L326.0,263.48 L326.5,263.12 L327.0,262.76 L327.5,262.41 L328.0,262.06 L328.5,261.72 L329.0,261.38 L329.5,261.06 L330.0,260.74 L330.5,260.44 L331.0,260.14 L331.5,259.85 L332.0,259.57 L332.5,259.30 L333.0,259.04 L333.5,258.79 L334.0,258.54 L334.5,258.31 L335.0,258.08 L335.5,257.86 L336.0,257.64 L336.5,257.44 L337.0,257.23 L337.5,257.04 L338.0,256.84 L338.5,256.65 L339.0,256.47 L339.5,256.29 L340.0,256.11 L340.5,255.94 L341.0,255.77 L341.5,255.60 L342.0,255.44 L342.5,255.28 L343.0,255.12 L343.5,254.96 L344.0,254.81 L344.5,254.66 L345.0,254.51 L345.5,254.37 L346.0,254.23 L346.5,254.09 L347.0,253.96 L347.5,253.83 L348.0,253.71 L348.5,253.59 L349.0,253.47 L349.5,253.36 L350.0,253.26 L350.5,253.16 L351.0,253.07 L351.5,252.98 L352.0,252.90 L352.5,252.82 L353.0,252.75 L353.5,252.69 L354.0,252.63 L354.5,252.57 L355.0,252.51 L355.5,252.46 L356.0,252.42 L356.5,252.37 L357.0,252.33 L357.5,252.29 L358.0,252.25 L358.5,252.22 L359.0,252.18 L359.5,252.15 L360.0,252.11 L360.5,252.08 L361.0,252.05 L361.5,252.02 L362.0,252.00 L362.5,251.97 L363.0,251.95 L363.5,251.93 L364.0,251.92 L364.5,251.90 L365.0,251.89 L365.5,251.89 L366.0,251.89 L366.5,251.89 L367.0,251.90 L367.5,251.91 L368.0,251.92 L368.5,251.94 L369.0,251.97 L369.5,252.00 L370.0,252.04 L370.5,252.08 L371.0,252.12 L371.5,252.17 L372.0,252.23 L372.5,252.28 L373.0,252.35 L373.5,252.41 L374.0,252.48 L374.5,252.56 L375.0,252.63 L375.5,252.71 L376.0,252.80 L376.5,252.88 L377.0,252.97 L377.5,253.07 L378.0,253.16 L378.5,253.26 L379.0,253.36 L379.5,253.47 L380.0,253.57 L380.5,253.68 L381.0,253.79 L381.5,253.90 L382.0,254.01 L382.5,254.13 L383.0,254.24 L383.5,254.36 L384.0,254.48 L384.5,254.60 L385.0,254.73 L385.5,254.85 L386.0,254.98 L386.5,255.10 L387.0,255.23 L387.5,255.36 L388.0,255.50 L388.5,255.63 L389.0,255.77 L389.5,255.91 L390.0,256.05 L390.5,256.19 L391.0,256.33 L391.5,256.48 L392.0,256.63 L392.5,256.78 L393.0,256.94 L393.5,257.09 L394.0,257.25 L394.5,257.42 L395.0,257.58 L395.5,257.75 L396.0,257.92 L396.5,258.10 L397.0,258.27 L397.5,258.45 L398.0,258.63 L398.5,258.81 L399.0,258.99 L399.5,259.17 L400.0,259.35 L400.5,259.53 L401.0,259.71 L401.5,259.88 L402.0,260.06 L402.5,260.23 L403.0,260.40 L403.5,260.57 L404.0,260.73 L404.5,260.90 L405.0,261.05 L405.5,261.21 L406.0,261.36 L406.5,261.50 L407.0,261.64 L407.5,261.78 L408.0,261.92 L408.5,262.06 L409.0,262.19 L409.5,262.32 L410.0,262.45 L410.5,262.58 L411.0,262.71 L411.5,262.83 L412.0,262.96 L412.5,263.10 L413.0,263.23 L413.5,263.37 L414.0,263.50 L414.5,263.64 L415.0,263.79 L415.5,263.93 L416.0,264.08 L416.5,264.24 L417.0,264.39 L417.5,264.55 L418.0,264.72 L418.5,264.88 L419.0,265.05 L419.5,265.23 L420.0,265.40 L420.5,265.58 L421.0,265.77 L421.5,265.96 L422.0,266.15 L422.5,266.35 L423.0,266.55 L423.5,266.76 L424.0,266.97 L424.5,267.19 L425.0,267.41 L425.5,267.64 L426.0,267.88 L426.5,268.12 L427.0,268.37 L427.5,268.62 L428.0,268.88 L428.5,269.14 L429.0,269.41 L429.5,269.68 L430.0,269.96 L430.5,270.25 L431.0,270.54 L431.5,270.83 L432.0,271.13 L432.5,271.43 L433.0,271.73 L433.5,272.04 L434.0,272.35 L434.5,272.66 L435.0,272.97 L435.5,273.28 L436.0,273.60 L436.5,273.92 L437.0,274.23 L437.5,274.55 L438.0,274.87 L438.5,275.19 L439.0,275.51 L439.5,275.83 L440.0,276.15 L440.5,276.46 L441.0,276.78 L441.5,277.10 L442.0,277.41 L442.5,277.72 L443.0,278.03 L443.5,278.35 L444.0,278.65 L444.5,278.96 L445.0,279.27 L445.5,279.58 L446.0,279.89 L446.5,280.20 L447.0,280.51 L447.5,280.82 L448.0,281.13 L448.5,281.45 L449.0,281.78 L449.5,282.11 L450.0,282.44 L450.5,282.79 L451.0,283.14 L451.5,283.50 L452.0,283.87 L452.5,284.25 L453.0,284.64 L453.5,285.04 L454.0,285.44 L454.5,285.86 L455.0,286.29 L455.5,286.72 L456.0,287.17 L456.5,287.62 L457.0,288.08 L457.5,288.55 L458.0,289.02 L458.5,289.50 L459.0,289.99 L459.5,290.48 L460.0,290.98 L460.5,291.48 L461.0,291.98 L461.5,292.49 L462.0,293.00 L462.5,293.52 L463.0,294.03 L463.5,294.55 L464.0,295.07 L464.5,295.60 L465.0,296.12 L465.5,296.65 L466.0,297.18 L466.5,297.71 L467.0,298.24 L467.5,298.77 L468.0,299.30 L468.5,299.83 L469.0,300.37 L469.5,300.90 L470.0,301.43 L470.5,301.97 L471.0,302.50 L471.5,303.03 L472.0,303.57 L472.5,304.10 L473.0,304.63 L473.5,305.16 L474.0,305.69 L474.5,306.22 L475.0,306.75 L475.5,307.28 L476.0,307.80 L476.5,308.33 L477.0,308.85 L477.5,309.38 L478.0,309.90 L478.5,310.42 L479.0,310.94 L479.5,311.45 L480.0,311.97 L480.5,312.48 L481.0,312.99 L481.5,313.50 L482.0,314.01 L482.5,314.52 L483.0,315.03 L483.5,315.53 L484.0,316.04 L484.5,316.54 L485.0,317.05 L485.5,317.55 L486.0,318.05 L486.5,318.56 L487.0,319.06 L487.5,319.57 L488.0,320.07 L488.5,320.58 L489.0,321.08 L489.5,321.59 L490.0,322.10 L490.5,322.61 L491.0,323.12 L491.5,323.64 L492.0,324.15 L492.5,324.67 L493.0,325.18 L493.5,325.70 L494.0,326.23 L494.5,326.75 L495.0,327.27 L495.5,327.80 L496.0,328.33 L496.5,328.86 L497.0,329.39 L497.5,329.92 L498.0,330.45 L498.5,330.99 L499.0,331.52 L499.5,332.06 L500.0,332.59 L500.5,333.13 L501.0,333.67 L501.5,334.20 L502.0,334.74 L502.5,335.27 L503.0,335.81 L503.5,336.34 L504.0,336.87 L504.5,337.40 L505.0,337.92 L505.5,338.45 L506.0,338.97 L506.5,339.49 L507.0,340.00 L507.5,340.52 L508.0,341.03 L508.5,341.53 L509.0,342.04 L509.5,342.54 L510.0,343.04 L510.5,343.54 L511.0,344.04 L511.5,344.53 L512.0,345.03 L512.5,345.53 L513.0,346.03 L513.5,346.54 L514.0,347.04 L514.5,347.56 L515.0,348.07 L515.5,348.59 L516.0,349.12 L516.5,349.65 L517.0,350.19 L517.5,350.74 L518.0,351.29 L518.5,351.85 L519.0,352.42 L519.5,352.99 L520.0,353.56 L520.5,354.14 L521.0,354.72 L521.5,355.31 L522.0,355.90 L522.5,356.48 L523.0,357.07 L523.5,357.65 L524.0,358.24 L524.5,358.81 L525.0,359.39 L525.5,359.96 L526.0,360.52 L526.5,361.08 L527.0,361.63 L527.5,362.18 L528.0,362.71 L528.5,363.24 L529.0,363.76 L529.5,364.28 L530.0,364.79 L530.5,365.29 L531.0,365.78 L531.5,366.27 L532.0,366.76 L532.5,367.23 L533.0,367.71 L533.5,368.17 L534.0,368.63 L534.5,369.09 L535.0,369.55 L535.5,369.99 L536.0,370.44 L536.5,370.88 L537.0,371.32 L537.5,371.75 L538.0,372.18 L538.5,372.61 L539.0,373.03 L539.5,373.44 L540.0,373.85 L540.5,374.26 L541.0,374.66 L541.5,375.06 L542.0,375.46 L542.5,375.84 L543.0,376.23 L543.5,376.60 L544.0,376.98 L544.5,377.35 L545.0,377.71 L545.5,378.07 L546.0,378.42 L546.5,378.77 L547.0,379.12 L547.5,379.46 L548.0,379.80 L548.5,380.14 L549.0,380.48 L549.5,380.81 L550.0,381.14 L550.5,381.47 L551.0,381.80 L551.5,382.12 L552.0,382.45 L552.5,382.78 L553.0,383.10 L553.5,383.43 L554.0,383.76 L554.5,384.09 L555.0,384.41 L555.5,384.74 L556.0,385.07 L556.5,385.41 L557.0,385.74 L557.5,386.07 L558.0,386.41 L558.5,386.75 L559.0,387.08 L559.5,387.42 L560.0,387.76 L560.5,388.11 L561.0,388.45 L561.5,388.80 L562.0,389.14 L562.5,389.49 L563.0,389.84 L563.5,390.19 L564.0,390.55 L564.5,390.90 L565.0,391.26 L565.5,391.61 L566.0,391.97 L566.5,392.33 L567.0,392.69 L567.5,393.05 L568.0,393.41 L568.5,393.77 L569.0,394.13 L569.5,394.50 L570.0,394.86 L570.5,395.22 L571.0,395.59 L571.5,395.95 L572.0,396.31 L572.5,396.67 L573.0,397.04 L573.5,397.40 L574.0,397.76 L574.5,398.12 L575.0,398.48 L575.5,398.84 L576.0,399.19 L576.5,399.55 L577.0,399.90 L577.5,400.26 L578.0,400.61 L578.5,400.96 L579.0,401.31 L579.5,401.65 L580.0,402.00 L580.5,402.34 L581.0,402.68 L581.5,403.02 L582.0,403.36 L582.5,403.70 L583.0,404.04 L583.5,404.37 L584.0,404.71 L584.5,405.04 L585.0,405.37 L585.5,405.71 L586.0,406.04 L586.5,406.37 L587.0,406.70 L587.5,407.04 L588.0,407.37 L588.5,407.70 L589.0,408.03 L589.5,408.37 L590.0,408.70 L590.5,409.03 L591.0,409.36 L591.5,409.70 L592.0,410.03 L592.5,410.36 L593.0,410.70 L593.5,411.03 L594.0,411.36 L594.5,411.70 L595.0,412.03 L595.5,412.37 L596.0,412.70 L596.5,413.03 L597.0,413.37 L597.5,413.70 L598.0,414.04 L598.5,414.37 L599.0,414.70 L599.5,415.04 L600.0,415.37 L600.5,415.71 L601.0,416.04 L601.5,416.38 L602.0,416.72 L602.5,417.05 L603.0,417.39 L603.5,417.72 L604.0,418.06 L604.5,418.40 L605.0,418.74 L605.5,419.07 L606.0,419.41 L606.5,419.75 L607.0,420.08 L607.5,420.42 L608.0,420.75 L608.5,421.09 L609.0,421.42 L609.5,421.75 L610.0,422.07 L610.5,422.40 L611.0,422.72 L611.5,423.04 L612.0,423.36 L612.5,423.67 L613.0,423.98 L613.5,424.29 L614.0,424.59 L614.5,424.89 L615.0,425.18 L615.5,425.48 L616.0,425.77 L616.5,426.06 L617.0,426.34 L617.5,426.63 L618.0,426.91 L618.5,427.19 L619.0,427.47 L619.5,427.74 L620.0,428.02 L620.5,428.30 L621.0,428.58 L621.5,428.85 L622.0,429.13 L622.5,429.41 L623.0,429.69 L623.5,429.97 L624.0,430.25 L624.5,430.53 L625.0,430.81 L625.5,431.09 L626.0,431.36 L626.5,431.64 L627.0,431.92 L627.5,432.19 L628.0,432.46 L628.5,432.73 L629.0,432.99 L629.5,433.25 L630.0,433.51 L630.5,433.76 L631.0,434.01 L631.5,434.25 L632.0,434.49 L632.5,434.73 L633.0,434.96 L633.5,435.19 L634.0,435.41 L634.5,435.63 L635.0,435.85 L635.5,436.06 L636.0,436.28 L636.5,436.49 L637.0,436.70 L637.5,436.91 L638.0,437.11 L638.5,437.32 L639.0,437.53 L639.5,437.74 L640.0,437.95 L640.5,438.16 L641.0,438.38 L641.5,438.59 L642.0,438.81 L642.5,439.03 L643.0,439.25 L643.5,439.47 L644.0,439.69 L644.5,439.92 L645.0,440.15 L645.5,440.38 L646.0,440.61 L646.5,440.84 L647.0,441.07 L647.5,441.30 L648.0,441.53 L648.5,441.77 L649.0,442.00 L649.5,442.23 L650.0,442.47 L650.5,442.70 L651.0,442.93 L651.5,443.16 L652.0,443.39 L652.5,443.61 L653.0,443.83 L653.5,444.05 L654.0,444.26 L654.5,444.46 L655.0,444.66 L655.5,444.84 L656.0,445.02 L656.5,445.18 L657.0,445.33 L657.5,445.46 L658.0,445.58" stroke="#008000"/>
</g>
<rect x="117" y="20.5" width="542" height="440.0" fill="none" stroke="#000" stroke-width="3"/>
<path d="M117.0,460.5 V469.0 M225.4,460.5 V469.0 M333.8,460.5 V469.0 M442.2,460.5 V469.0 M550.6,460.5 V469.0 M659.0,460.5 V469.0 M117.0,460.5 H109.0 M117.0,405.5 H109.0 M117.0,350.5 H109.0 M117.0,295.5 H109.0 M117.0,240.5 H109.0 M117.0,185.5 H109.0 M117.0,130.5 H109.0 M117.0,75.5 H109.0 M117.0,20.5 H109.0" stroke="#000" stroke-width="3" stroke-linecap="round" fill="none"/>
<g class="tk">
<text x="117.3" y="492.7" text-anchor="middle">300</text>
<text x="225.7" y="492.7" text-anchor="middle">400</text>
<text x="334.1" y="492.7" text-anchor="middle">500</text>
<text x="442.5" y="492.7" text-anchor="middle">600</text>
<text x="550.9" y="492.7" text-anchor="middle">700</text>
<text x="659.3" y="492.7" text-anchor="middle">800</text>
<text x="103.4" y="466.8" text-anchor="end" letter-spacing="0.3">0.00</text>
<text x="103.4" y="411.8" text-anchor="end" letter-spacing="0.3">0.05</text>
<text x="103.4" y="356.8" text-anchor="end" letter-spacing="0.3">0.10</text>
<text x="103.4" y="301.8" text-anchor="end" letter-spacing="0.3">0.15</text>
<text x="103.4" y="246.8" text-anchor="end" letter-spacing="0.3">0.20</text>
<text x="103.4" y="191.8" text-anchor="end" letter-spacing="0.3">0.25</text>
<text x="103.4" y="136.8" text-anchor="end" letter-spacing="0.3">0.30</text>
<text x="103.4" y="81.8" text-anchor="end" letter-spacing="0.3">0.35</text>
<text x="103.4" y="26.8" text-anchor="end" letter-spacing="0.3">0.40</text>
</g>
<g>
<path d="M345.2,33.5 H395.2" stroke="#000000" stroke-width="2.9" stroke-linecap="round"/>
<text x="400.8" y="40.8" class="lg">0SHMP+pH7.4 CR</text>
<path d="M345.2,60.7 H395.2" stroke="#ff0000" stroke-width="2.9" stroke-linecap="round"/>
<text x="400.8" y="68.0" class="lg">ALA+0SHMP+pH2.0CR</text>
<path d="M345.2,87.9 H395.2" stroke="#0000ff" stroke-width="2.9" stroke-linecap="round"/>
<text x="400.8" y="95.2" class="lg">ALA+0.2SHMP+pH2.0CR</text>
<path d="M345.2,115.1 H395.2" stroke="#ff00ff" stroke-width="2.9" stroke-linecap="round"/>
<text x="400.8" y="122.4" class="lg">ALA+0.5SHMP+pH2.0CR</text>
<path d="M345.2,142.3 H395.2" stroke="#008000" stroke-width="2.9" stroke-linecap="round"/>
<text x="400.8" y="149.6" class="lg">ALA+0.5SHMP+pH2.0CR</text>
</g>
<text x="387" y="536.3" text-anchor="middle" style="font-weight:bold;font-size:24px" transform="translate(388.5 0) scale(1.053 1) translate(-387 0)">Wavelength (nm)</text>
<text transform="translate(29.8 245.5) rotate(-90) scale(1.0 1)" text-anchor="middle" style="font-weight:bold;font-size:26.5px">Absorbance</text>
</svg>
</body></html>
